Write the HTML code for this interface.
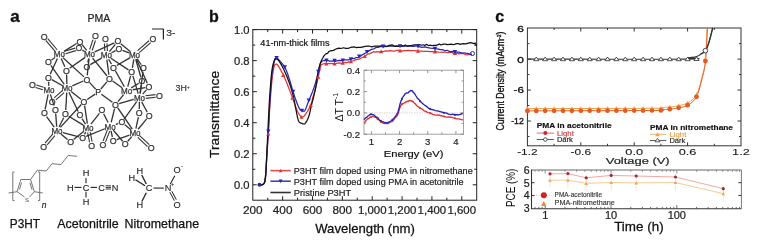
<!DOCTYPE html><html><head><meta charset="utf-8"><style>html,body{margin:0;padding:0;width:760px;height:245px;overflow:hidden;background:#fff}</style></head><body><svg width="760" height="245" viewBox="0 0 760 245" style="position:absolute;left:0;top:0;font-family:'Liberation Sans', sans-serif;font-variant-ligatures:none;filter:blur(0.3px)">
<rect width="760" height="245" fill="#fff"/>
<text x="10.2" y="21.8" font-size="17" text-anchor="start" font-weight="bold" fill="#111"  stroke="#111" stroke-width="0.34" style="">a</text>
<text x="208.9" y="21.8" font-size="16" text-anchor="start" font-weight="bold" fill="#111"  stroke="#111" stroke-width="0.32" style="">b</text>
<text x="495.3" y="21.9" font-size="16" text-anchor="start" font-weight="bold" fill="#111"  stroke="#111" stroke-width="0.32" style="">c</text>
<text x="98.8" y="21.5" font-size="10.5" text-anchor="middle" font-weight="normal" fill="#222" textLength="22.8" lengthAdjust="spacingAndGlyphs"  stroke="#222" stroke-width="0.21" style="">PMA</text>
<path d="M152 29 L163.4 29 L163.4 39.5" fill="none" stroke="#222" stroke-width="1.2" stroke-linejoin="round" />
<text x="166.3" y="36.2" font-size="8.5" text-anchor="start" font-weight="normal" fill="#333" textLength="9.2" lengthAdjust="spacingAndGlyphs"  stroke="#333" stroke-width="0.17" style="">3-</text>
<text x="175.6" y="91.3" font-size="8.5" text-anchor="start" font-weight="normal" fill="#333" textLength="11.3" lengthAdjust="spacingAndGlyphs"  stroke="#333" stroke-width="0.17" style="">3H</text>
<text x="186.8" y="88.5" font-size="5.5" text-anchor="start" font-weight="normal" fill="#333"  stroke="#333" stroke-width="0.11" style="">+</text>
<line x1="51.59" y1="59.94" x2="55" y2="57.44" stroke="#333" stroke-width="1.3" />
<line x1="76.58" y1="43.51" x2="63.95" y2="51.4" stroke="#333" stroke-width="1.3" />
<line x1="50.18" y1="74.15" x2="57.41" y2="58.4" stroke="#333" stroke-width="1.3" />
<line x1="64.87" y1="66.82" x2="61.13" y2="58.41" stroke="#333" stroke-width="1.3" />
<line x1="83.95" y1="76.89" x2="63.06" y2="57.75" stroke="#333" stroke-width="1.3" />
<line x1="82.18" y1="44.64" x2="86.61" y2="50.48" stroke="#333" stroke-width="1.3" />
<line x1="82.29" y1="50.18" x2="84.67" y2="51.54" stroke="#333" stroke-width="1.3" />
<line x1="114.38" y1="42.87" x2="94.73" y2="51.9" stroke="#333" stroke-width="1.3" />
<line x1="69.62" y1="68.3" x2="85.12" y2="57.39" stroke="#333" stroke-width="1.3" />
<line x1="87.82" y1="62.5" x2="88.63" y2="58.56" stroke="#333" stroke-width="1.3" />
<line x1="87.24" y1="75.43" x2="89.04" y2="58.59" stroke="#333" stroke-width="1.3" />
<line x1="106.92" y1="75.75" x2="92.55" y2="58.06" stroke="#333" stroke-width="1.3" />
<line x1="115.31" y1="44.33" x2="109.38" y2="51.55" stroke="#333" stroke-width="1.3" />
<line x1="115.62" y1="50.68" x2="111.4" y2="52.77" stroke="#333" stroke-width="1.3" />
<line x1="90.28" y1="64.6" x2="101.5" y2="58.09" stroke="#333" stroke-width="1.3" />
<line x1="111.47" y1="64.07" x2="108.65" y2="59.29" stroke="#333" stroke-width="1.3" />
<line x1="108.86" y1="74.74" x2="106.86" y2="59.58" stroke="#333" stroke-width="1.3" />
<line x1="128.52" y1="69.91" x2="110.84" y2="58.28" stroke="#333" stroke-width="1.3" />
<line x1="120.77" y1="43.74" x2="130.47" y2="51.69" stroke="#333" stroke-width="1.3" />
<line x1="122.49" y1="50.35" x2="129.02" y2="52.88" stroke="#333" stroke-width="1.3" />
<line x1="116.76" y1="65.56" x2="129.75" y2="57.83" stroke="#333" stroke-width="1.3" />
<line x1="132.36" y1="67.97" x2="133.8" y2="59.27" stroke="#333" stroke-width="1.3" />
<line x1="141.25" y1="64.75" x2="137.19" y2="58.89" stroke="#333" stroke-width="1.3" />
<line x1="140.88" y1="77.29" x2="135.71" y2="59.22" stroke="#333" stroke-width="1.3" />
<line x1="147.34" y1="83.34" x2="136.36" y2="59.11" stroke="#333" stroke-width="1.3" />
<line x1="48.67" y1="81.9" x2="48.83" y2="85.9" stroke="#333" stroke-width="1.3" />
<line x1="45.11" y1="109.3" x2="48.13" y2="94.46" stroke="#333" stroke-width="1.3" />
<line x1="54.12" y1="105.65" x2="50.39" y2="94.39" stroke="#333" stroke-width="1.3" />
<line x1="50.79" y1="65.42" x2="64.25" y2="84.33" stroke="#333" stroke-width="1.3" />
<line x1="51.8" y1="79.65" x2="62.14" y2="85.47" stroke="#333" stroke-width="1.3" />
<line x1="66.62" y1="74.6" x2="66.88" y2="83.9" stroke="#333" stroke-width="1.3" />
<line x1="83.36" y1="81.01" x2="72.3" y2="85.87" stroke="#333" stroke-width="1.3" />
<line x1="65.74" y1="110.11" x2="66.75" y2="92.5" stroke="#333" stroke-width="1.3" />
<line x1="78.17" y1="111.58" x2="68.95" y2="92.29" stroke="#333" stroke-width="1.3" />
<line x1="80.98" y1="99.22" x2="71.12" y2="91.45" stroke="#333" stroke-width="1.3" />
<line x1="115.46" y1="70.98" x2="124.34" y2="86.79" stroke="#333" stroke-width="1.3" />
<line x1="112.53" y1="80.98" x2="122.19" y2="87.73" stroke="#333" stroke-width="1.3" />
<line x1="130.63" y1="75.93" x2="127.75" y2="86.57" stroke="#333" stroke-width="1.3" />
<line x1="138.78" y1="83.21" x2="131.25" y2="87.9" stroke="#333" stroke-width="1.3" />
<line x1="145.34" y1="87.62" x2="132.71" y2="89.76" stroke="#333" stroke-width="1.3" />
<line x1="117.96" y1="101.54" x2="123.57" y2="94.57" stroke="#333" stroke-width="1.3" />
<line x1="132.88" y1="75.89" x2="138.23" y2="93.59" stroke="#333" stroke-width="1.3" />
<line x1="142.96" y1="72.06" x2="140.07" y2="93.52" stroke="#333" stroke-width="1.3" />
<line x1="141.39" y1="85.24" x2="140.14" y2="93.52" stroke="#333" stroke-width="1.3" />
<line x1="146.42" y1="89.94" x2="142.74" y2="94.11" stroke="#333" stroke-width="1.3" />
<line x1="119.08" y1="103.58" x2="133.68" y2="99.45" stroke="#333" stroke-width="1.3" />
<line x1="124.11" y1="119.1" x2="136.71" y2="101.66" stroke="#333" stroke-width="1.3" />
<line x1="139.28" y1="109.1" x2="139.42" y2="102.1" stroke="#333" stroke-width="1.3" />
<line x1="147.3" y1="112.28" x2="141.67" y2="101.84" stroke="#333" stroke-width="1.3" />
<line x1="46.6" y1="116.51" x2="54.23" y2="127.14" stroke="#333" stroke-width="1.3" />
<line x1="55.7" y1="113.59" x2="56.68" y2="126.71" stroke="#333" stroke-width="1.3" />
<line x1="63.69" y1="117.78" x2="59.06" y2="126.94" stroke="#333" stroke-width="1.3" />
<line x1="81.36" y1="104.47" x2="60.35" y2="127.36" stroke="#333" stroke-width="1.3" />
<line x1="67.6" y1="139.5" x2="61.08" y2="134.27" stroke="#333" stroke-width="1.3" />
<line x1="79" y1="136.93" x2="62.86" y2="132.58" stroke="#333" stroke-width="1.3" />
<line x1="68.74" y1="116.19" x2="83.31" y2="125.13" stroke="#333" stroke-width="1.3" />
<line x1="82.02" y1="118.56" x2="85.5" y2="124.05" stroke="#333" stroke-width="1.3" />
<line x1="84.61" y1="105.64" x2="87.35" y2="123.72" stroke="#333" stroke-width="1.3" />
<line x1="99.39" y1="113.31" x2="90.95" y2="124.2" stroke="#333" stroke-width="1.3" />
<line x1="73.6" y1="139.5" x2="83.91" y2="131.27" stroke="#333" stroke-width="1.3" />
<line x1="84.51" y1="134.39" x2="85.8" y2="132.03" stroke="#333" stroke-width="1.3" />
<line x1="103.63" y1="113.76" x2="108.11" y2="122.44" stroke="#333" stroke-width="1.3" />
<line x1="114.54" y1="108.56" x2="111.23" y2="122.26" stroke="#333" stroke-width="1.3" />
<line x1="118.28" y1="123.57" x2="115.77" y2="124.48" stroke="#333" stroke-width="1.3" />
<line x1="86.07" y1="136.47" x2="104.81" y2="128.73" stroke="#333" stroke-width="1.3" />
<line x1="112.37" y1="137" x2="111.08" y2="130.76" stroke="#333" stroke-width="1.3" />
<line x1="122.67" y1="141.21" x2="113.35" y2="130.22" stroke="#333" stroke-width="1.3" />
<line x1="117.74" y1="107.86" x2="132.33" y2="129.11" stroke="#333" stroke-width="1.3" />
<line x1="124.79" y1="124.72" x2="130.94" y2="129.71" stroke="#333" stroke-width="1.3" />
<line x1="138.35" y1="117.19" x2="135.9" y2="128.74" stroke="#333" stroke-width="1.3" />
<line x1="146.7" y1="118.83" x2="138.09" y2="129.25" stroke="#333" stroke-width="1.3" />
<line x1="116.71" y1="139.71" x2="129.45" y2="135.04" stroke="#333" stroke-width="1.3" />
<line x1="127.78" y1="141.26" x2="131.77" y2="136.69" stroke="#333" stroke-width="1.3" />
<line x1="89.44" y1="82.37" x2="95.64" y2="89.11" stroke="#333" stroke-width="1.3" />
<line x1="106.88" y1="81.8" x2="100.85" y2="88.97" stroke="#333" stroke-width="1.3" />
<line x1="87.16" y1="99.48" x2="95.16" y2="94.11" stroke="#333" stroke-width="1.3" />
<line x1="112.41" y1="102.34" x2="101.37" y2="94.25" stroke="#333" stroke-width="1.3" />
<line x1="45.74" y1="40.33" x2="55.15" y2="51.42" stroke="#333" stroke-width="1.1" />
<line x1="47.73" y1="38.65" x2="57.13" y2="49.74" stroke="#333" stroke-width="1.1" />
<line x1="92.99" y1="39.64" x2="89.66" y2="49.7" stroke="#333" stroke-width="1.1" />
<line x1="95.46" y1="40.46" x2="92.12" y2="50.52" stroke="#333" stroke-width="1.1" />
<line x1="104.41" y1="43.46" x2="104.79" y2="51.07" stroke="#333" stroke-width="1.1" />
<line x1="107" y1="43.33" x2="107.38" y2="50.94" stroke="#333" stroke-width="1.1" />
<line x1="149.03" y1="40.74" x2="137.56" y2="50.64" stroke="#333" stroke-width="1.1" />
<line x1="150.73" y1="42.7" x2="139.26" y2="52.61" stroke="#333" stroke-width="1.1" />
<line x1="35.6" y1="87.52" x2="42.86" y2="89.71" stroke="#333" stroke-width="1.1" />
<line x1="36.35" y1="85.03" x2="43.61" y2="87.22" stroke="#333" stroke-width="1.1" />
<line x1="55.94" y1="99.88" x2="64.06" y2="92.59" stroke="#333" stroke-width="1.1" />
<line x1="54.2" y1="97.95" x2="62.32" y2="90.66" stroke="#333" stroke-width="1.1" />
<line x1="155.47" y1="94.64" x2="145.56" y2="95.79" stroke="#333" stroke-width="1.1" />
<line x1="155.77" y1="97.22" x2="145.86" y2="98.37" stroke="#333" stroke-width="1.1" />
<line x1="47.11" y1="144.83" x2="54.87" y2="135.57" stroke="#333" stroke-width="1.1" />
<line x1="45.12" y1="143.16" x2="52.88" y2="133.9" stroke="#333" stroke-width="1.1" />
<line x1="92.15" y1="141.74" x2="90.15" y2="132" stroke="#333" stroke-width="1.1" />
<line x1="89.6" y1="142.26" x2="87.6" y2="132.52" stroke="#333" stroke-width="1.1" />
<line x1="105.49" y1="141.92" x2="109.77" y2="131.13" stroke="#333" stroke-width="1.1" />
<line x1="103.08" y1="140.97" x2="107.35" y2="130.17" stroke="#333" stroke-width="1.1" />
<line x1="149.28" y1="144.7" x2="139.58" y2="135.54" stroke="#333" stroke-width="1.1" />
<line x1="147.49" y1="146.59" x2="137.8" y2="137.43" stroke="#333" stroke-width="1.1" />
<line x1="75.05" y1="48.14" x2="64.67" y2="51.3" stroke="#333" stroke-width="1.1" />
<line x1="75.81" y1="50.63" x2="65.43" y2="53.79" stroke="#333" stroke-width="1.1" />
<text x="59.3" y="57.4" font-size="8.8" text-anchor="middle" font-weight="normal" fill="#333" textLength="11.2" lengthAdjust="spacingAndGlyphs" stroke="#333" stroke-width="0.25" style="">Mo</text>
<text x="89.5" y="57.4" font-size="8.8" text-anchor="middle" font-weight="normal" fill="#333" textLength="11.2" lengthAdjust="spacingAndGlyphs" stroke="#333" stroke-width="0.25" style="">Mo</text>
<text x="106.3" y="58.4" font-size="8.8" text-anchor="middle" font-weight="normal" fill="#333" textLength="11.2" lengthAdjust="spacingAndGlyphs" stroke="#333" stroke-width="0.25" style="">Mo</text>
<text x="134.5" y="58.1" font-size="8.8" text-anchor="middle" font-weight="normal" fill="#333" textLength="11.2" lengthAdjust="spacingAndGlyphs" stroke="#333" stroke-width="0.25" style="">Mo</text>
<text x="49" y="93.3" font-size="8.8" text-anchor="middle" font-weight="normal" fill="#333" textLength="11.2" lengthAdjust="spacingAndGlyphs" stroke="#333" stroke-width="0.25" style="">Mo</text>
<text x="67" y="91.3" font-size="8.8" text-anchor="middle" font-weight="normal" fill="#333" textLength="11.2" lengthAdjust="spacingAndGlyphs" stroke="#333" stroke-width="0.25" style="">Mo</text>
<text x="126.6" y="93.9" font-size="8.8" text-anchor="middle" font-weight="normal" fill="#333" textLength="11.2" lengthAdjust="spacingAndGlyphs" stroke="#333" stroke-width="0.25" style="">Mo</text>
<text x="139.5" y="100.9" font-size="8.8" text-anchor="middle" font-weight="normal" fill="#333" textLength="11.2" lengthAdjust="spacingAndGlyphs" stroke="#333" stroke-width="0.25" style="">Mo</text>
<text x="57" y="134.1" font-size="8.8" text-anchor="middle" font-weight="normal" fill="#333" textLength="11.2" lengthAdjust="spacingAndGlyphs" stroke="#333" stroke-width="0.25" style="">Mo</text>
<text x="88" y="131.1" font-size="8.8" text-anchor="middle" font-weight="normal" fill="#333" textLength="11.2" lengthAdjust="spacingAndGlyphs" stroke="#333" stroke-width="0.25" style="">Mo</text>
<text x="110.2" y="129.6" font-size="8.8" text-anchor="middle" font-weight="normal" fill="#333" textLength="11.2" lengthAdjust="spacingAndGlyphs" stroke="#333" stroke-width="0.25" style="">Mo</text>
<text x="135" y="136.1" font-size="8.8" text-anchor="middle" font-weight="normal" fill="#333" textLength="11.2" lengthAdjust="spacingAndGlyphs" stroke="#333" stroke-width="0.25" style="">Mo</text>
<text x="98.3" y="95.1" font-size="8.8" text-anchor="middle" font-weight="normal" fill="#333" stroke="#333" stroke-width="0.25" style="">P</text>
<text x="44.2" y="39.6" font-size="8.8" text-anchor="middle" font-weight="normal" fill="#333" stroke="#333" stroke-width="0.25" style="">O</text>
<text x="95.5" y="39.3" font-size="8.8" text-anchor="middle" font-weight="normal" fill="#333" stroke="#333" stroke-width="0.25" style="">O</text>
<text x="105.5" y="42.4" font-size="8.8" text-anchor="middle" font-weight="normal" fill="#333" stroke="#333" stroke-width="0.25" style="">O</text>
<text x="152.8" y="42.3" font-size="8.8" text-anchor="middle" font-weight="normal" fill="#333" stroke="#333" stroke-width="0.25" style="">O</text>
<text x="32.4" y="88.3" font-size="8.8" text-anchor="middle" font-weight="normal" fill="#333" stroke="#333" stroke-width="0.25" style="">O</text>
<text x="52.2" y="104.6" font-size="8.8" text-anchor="middle" font-weight="normal" fill="#333" stroke="#333" stroke-width="0.25" style="">O</text>
<text x="159.3" y="98.6" font-size="8.8" text-anchor="middle" font-weight="normal" fill="#333" stroke="#333" stroke-width="0.25" style="">O</text>
<text x="43.6" y="150.1" font-size="8.8" text-anchor="middle" font-weight="normal" fill="#333" stroke="#333" stroke-width="0.25" style="">O</text>
<text x="91.7" y="149.1" font-size="8.8" text-anchor="middle" font-weight="normal" fill="#333" stroke="#333" stroke-width="0.25" style="">O</text>
<text x="102.8" y="148.3" font-size="8.8" text-anchor="middle" font-weight="normal" fill="#333" stroke="#333" stroke-width="0.25" style="">O</text>
<text x="151.2" y="151.4" font-size="8.8" text-anchor="middle" font-weight="normal" fill="#333" stroke="#333" stroke-width="0.25" style="">O</text>
<text x="48.5" y="65.3" font-size="8.8" text-anchor="middle" font-weight="normal" fill="#333" stroke="#333" stroke-width="0.25" style="">O</text>
<text x="79.8" y="44.6" font-size="8.8" text-anchor="middle" font-weight="normal" fill="#333" stroke="#333" stroke-width="0.25" style="">O</text>
<text x="79" y="51.4" font-size="8.8" text-anchor="middle" font-weight="normal" fill="#333" stroke="#333" stroke-width="0.25" style="">O</text>
<text x="117.8" y="44.4" font-size="8.8" text-anchor="middle" font-weight="normal" fill="#333" stroke="#333" stroke-width="0.25" style="">O</text>
<text x="119" y="52.1" font-size="8.8" text-anchor="middle" font-weight="normal" fill="#333" stroke="#333" stroke-width="0.25" style="">O</text>
<text x="48.5" y="80.9" font-size="8.8" text-anchor="middle" font-weight="normal" fill="#333" stroke="#333" stroke-width="0.25" style="">O</text>
<text x="66.5" y="73.6" font-size="8.8" text-anchor="middle" font-weight="normal" fill="#333" stroke="#333" stroke-width="0.25" style="">O</text>
<text x="87" y="69.6" font-size="8.8" text-anchor="middle" font-weight="normal" fill="#333" stroke="#333" stroke-width="0.25" style="">O</text>
<text x="86.8" y="82.6" font-size="8.8" text-anchor="middle" font-weight="normal" fill="#333" stroke="#333" stroke-width="0.25" style="">O</text>
<text x="113.5" y="70.6" font-size="8.8" text-anchor="middle" font-weight="normal" fill="#333" stroke="#333" stroke-width="0.25" style="">O</text>
<text x="109.4" y="81.9" font-size="8.8" text-anchor="middle" font-weight="normal" fill="#333" stroke="#333" stroke-width="0.25" style="">O</text>
<text x="131.7" y="75.1" font-size="8.8" text-anchor="middle" font-weight="normal" fill="#333" stroke="#333" stroke-width="0.25" style="">O</text>
<text x="143.5" y="71.1" font-size="8.8" text-anchor="middle" font-weight="normal" fill="#333" stroke="#333" stroke-width="0.25" style="">O</text>
<text x="142" y="84.3" font-size="8.8" text-anchor="middle" font-weight="normal" fill="#333" stroke="#333" stroke-width="0.25" style="">O</text>
<text x="149" y="90.1" font-size="8.8" text-anchor="middle" font-weight="normal" fill="#333" stroke="#333" stroke-width="0.25" style="">O</text>
<text x="44.3" y="116.4" font-size="8.8" text-anchor="middle" font-weight="normal" fill="#333" stroke="#333" stroke-width="0.25" style="">O</text>
<text x="55.4" y="112.6" font-size="8.8" text-anchor="middle" font-weight="normal" fill="#333" stroke="#333" stroke-width="0.25" style="">O</text>
<text x="65.5" y="117.3" font-size="8.8" text-anchor="middle" font-weight="normal" fill="#333" stroke="#333" stroke-width="0.25" style="">O</text>
<text x="79.9" y="118.3" font-size="8.8" text-anchor="middle" font-weight="normal" fill="#333" stroke="#333" stroke-width="0.25" style="">O</text>
<text x="84" y="104.7" font-size="8.8" text-anchor="middle" font-weight="normal" fill="#333" stroke="#333" stroke-width="0.25" style="">O</text>
<text x="101.8" y="113.3" font-size="8.8" text-anchor="middle" font-weight="normal" fill="#333" stroke="#333" stroke-width="0.25" style="">O</text>
<text x="115.5" y="107.7" font-size="8.8" text-anchor="middle" font-weight="normal" fill="#333" stroke="#333" stroke-width="0.25" style="">O</text>
<text x="121.8" y="125.4" font-size="8.8" text-anchor="middle" font-weight="normal" fill="#333" stroke="#333" stroke-width="0.25" style="">O</text>
<text x="139.2" y="116.3" font-size="8.8" text-anchor="middle" font-weight="normal" fill="#333" stroke="#333" stroke-width="0.25" style="">O</text>
<text x="149.2" y="118.9" font-size="8.8" text-anchor="middle" font-weight="normal" fill="#333" stroke="#333" stroke-width="0.25" style="">O</text>
<text x="70.6" y="145" font-size="8.8" text-anchor="middle" font-weight="normal" fill="#333" stroke="#333" stroke-width="0.25" style="">O</text>
<text x="82.6" y="141" font-size="8.8" text-anchor="middle" font-weight="normal" fill="#333" stroke="#333" stroke-width="0.25" style="">O</text>
<text x="113.2" y="144.1" font-size="8.8" text-anchor="middle" font-weight="normal" fill="#333" stroke="#333" stroke-width="0.25" style="">O</text>
<text x="125.2" y="147.3" font-size="8.8" text-anchor="middle" font-weight="normal" fill="#333" stroke="#333" stroke-width="0.25" style="">O</text>
<path d="M17.1 191.7 L20.8 179.5 L30.6 179.5 L34.3 191.7 L29.5 197" fill="none" stroke="#666" stroke-width="0.9" stroke-linejoin="round" />
<path d="M24.5 197 L17.1 191.7" fill="none" stroke="#666" stroke-width="0.9" stroke-linejoin="round" />
<line x1="21.5" y1="182.5" x2="19.5" y2="189.5" stroke="#666" stroke-width="0.9" />
<line x1="29.9" y1="182.5" x2="32" y2="189.5" stroke="#666" stroke-width="0.9" />
<text x="26.9" y="201.5" font-size="6" text-anchor="middle" font-weight="normal" fill="#666"  stroke="#666" stroke-width="0.12" style="">S</text>
<line x1="8.6" y1="193" x2="17.1" y2="191.7" stroke="#666" stroke-width="0.9" />
<line x1="34.3" y1="191.7" x2="42.8" y2="193" stroke="#666" stroke-width="0.9" />
<path d="M14.5 172 L12.8 172 L12.8 200.5 L14.5 200.5" fill="none" stroke="#666" stroke-width="0.9" stroke-linejoin="round" />
<path d="M38 172 L39.7 172 L39.7 200.5 L38 200.5" fill="none" stroke="#666" stroke-width="0.9" stroke-linejoin="round" />
<text x="41.8" y="207.5" font-size="8.5" text-anchor="start" font-weight="normal" fill="#222"  stroke="#222" stroke-width="0.17" style="font-style:italic">n</text>
<path d="M30.6 179.5 L37.3 170.2 L46.2 171 L52 163.7 L61 164.5 L68.1 155.5 L77.1 156.3" fill="none" stroke="#666" stroke-width="0.9" stroke-linejoin="round" />
<text x="86" y="176.4" font-size="9.2" text-anchor="middle" font-weight="normal" fill="#222" stroke="#222" stroke-width="0.12" style="">H</text>
<text x="86" y="190.7" font-size="9.2" text-anchor="middle" font-weight="normal" fill="#222" stroke="#222" stroke-width="0.12" style="">C</text>
<text x="70.4" y="190.7" font-size="9.2" text-anchor="middle" font-weight="normal" fill="#222" stroke="#222" stroke-width="0.12" style="">H</text>
<text x="86" y="205" font-size="9.2" text-anchor="middle" font-weight="normal" fill="#222" stroke="#222" stroke-width="0.12" style="">H</text>
<text x="101.6" y="190.7" font-size="9.2" text-anchor="middle" font-weight="normal" fill="#222" stroke="#222" stroke-width="0.12" style="">C</text>
<text x="115" y="190.7" font-size="9.2" text-anchor="middle" font-weight="normal" fill="#222" stroke="#222" stroke-width="0.12" style="">N</text>
<line x1="74.5" y1="187.4" x2="81.5" y2="187.4" stroke="#222" stroke-width="1.1" />
<line x1="90.5" y1="187.4" x2="97" y2="187.4" stroke="#222" stroke-width="1.1" />
<line x1="86" y1="178" x2="86" y2="183.2" stroke="#222" stroke-width="1.1" />
<line x1="86" y1="191.8" x2="86" y2="197.4" stroke="#222" stroke-width="1.1" />
<line x1="105.6" y1="185.8" x2="111" y2="185.8" stroke="#222" stroke-width="0.9" />
<line x1="105.6" y1="187.4" x2="111" y2="187.4" stroke="#222" stroke-width="0.9" />
<line x1="105.6" y1="189" x2="111" y2="189" stroke="#222" stroke-width="0.9" />
<text x="139.8" y="174" font-size="9.2" text-anchor="middle" font-weight="normal" fill="#222" stroke="#222" stroke-width="0.12" style="">H</text>
<text x="131.9" y="181" font-size="9.2" text-anchor="middle" font-weight="normal" fill="#222" stroke="#222" stroke-width="0.12" style="">H</text>
<text x="149" y="191.3" font-size="9.2" text-anchor="middle" font-weight="normal" fill="#222" stroke="#222" stroke-width="0.12" style="">C</text>
<text x="139.8" y="208" font-size="9.2" text-anchor="middle" font-weight="normal" fill="#222" stroke="#222" stroke-width="0.12" style="">H</text>
<text x="168" y="191.3" font-size="9.2" text-anchor="middle" font-weight="normal" fill="#222" stroke="#222" stroke-width="0.12" style="">N</text>
<text x="172.5" y="185.5" font-size="5.5" text-anchor="middle" font-weight="normal" fill="#222"  stroke="#222" stroke-width="0.11" style="">+</text>
<text x="177" y="173.3" font-size="9.2" text-anchor="middle" font-weight="normal" fill="#222" stroke="#222" stroke-width="0.12" style="">O</text>
<text x="182" y="167.8" font-size="6.5" text-anchor="middle" font-weight="normal" fill="#222"  stroke="#222" stroke-width="0.13" style="">-</text>
<text x="177" y="208.2" font-size="9.2" text-anchor="middle" font-weight="normal" fill="#222" stroke="#222" stroke-width="0.12" style="">O</text>
<line x1="141.8" y1="175" x2="146.3" y2="184" stroke="#222" stroke-width="1.3" />
<line x1="135.5" y1="179.8" x2="145" y2="185.8" stroke="#222" stroke-width="1.3" />
<line x1="141.8" y1="201.5" x2="146.3" y2="192.8" stroke="#222" stroke-width="1.3" />
<line x1="153.5" y1="188.1" x2="163.8" y2="188.1" stroke="#222" stroke-width="1.1" />
<line x1="170.2" y1="184.3" x2="174.8" y2="175.8" stroke="#222" stroke-width="1.1" />
<line x1="169.9" y1="192.2" x2="174.4" y2="200.6" stroke="#222" stroke-width="1" />
<line x1="171.8" y1="191.2" x2="176.3" y2="199.6" stroke="#222" stroke-width="1" />
<text x="9.8" y="228.2" font-size="12.6" text-anchor="start" font-weight="normal" fill="#111" textLength="30.2" lengthAdjust="spacingAndGlyphs"  stroke="#111" stroke-width="0.25" style="">P3HT</text>
<text x="57.2" y="228.2" font-size="12.6" text-anchor="start" font-weight="normal" fill="#111" textLength="61.6" lengthAdjust="spacingAndGlyphs"  stroke="#111" stroke-width="0.25" style="">Acetonitrile</text>
<text x="124.5" y="228.2" font-size="12.6" text-anchor="start" font-weight="normal" fill="#111" textLength="74.6" lengthAdjust="spacingAndGlyphs"  stroke="#111" stroke-width="0.25" style="">Nitromethane</text>
<rect x="252.8" y="29.6" width="223.9" height="170.6" fill="none" stroke="#222" stroke-width="1"/>
<line x1="252.8" y1="184.8" x2="256.8" y2="184.8" stroke="#222" stroke-width="1" />
<line x1="476.7" y1="184.8" x2="472.7" y2="184.8" stroke="#222" stroke-width="1" />
<text x="249.6" y="188.8" font-size="11.2" text-anchor="end" font-weight="normal" fill="#222"  stroke="#222" stroke-width="0.22" style="">0.0</text>
<line x1="252.8" y1="169.28" x2="255.3" y2="169.28" stroke="#222" stroke-width="1" />
<line x1="476.7" y1="169.28" x2="474.2" y2="169.28" stroke="#222" stroke-width="1" />
<line x1="252.8" y1="153.76" x2="256.8" y2="153.76" stroke="#222" stroke-width="1" />
<line x1="476.7" y1="153.76" x2="472.7" y2="153.76" stroke="#222" stroke-width="1" />
<text x="249.6" y="157.76" font-size="11.2" text-anchor="end" font-weight="normal" fill="#222"  stroke="#222" stroke-width="0.22" style="">0.2</text>
<line x1="252.8" y1="138.24" x2="255.3" y2="138.24" stroke="#222" stroke-width="1" />
<line x1="476.7" y1="138.24" x2="474.2" y2="138.24" stroke="#222" stroke-width="1" />
<line x1="252.8" y1="122.72" x2="256.8" y2="122.72" stroke="#222" stroke-width="1" />
<line x1="476.7" y1="122.72" x2="472.7" y2="122.72" stroke="#222" stroke-width="1" />
<text x="249.6" y="126.72" font-size="11.2" text-anchor="end" font-weight="normal" fill="#222"  stroke="#222" stroke-width="0.22" style="">0.4</text>
<line x1="252.8" y1="107.2" x2="255.3" y2="107.2" stroke="#222" stroke-width="1" />
<line x1="476.7" y1="107.2" x2="474.2" y2="107.2" stroke="#222" stroke-width="1" />
<line x1="252.8" y1="91.68" x2="256.8" y2="91.68" stroke="#222" stroke-width="1" />
<line x1="476.7" y1="91.68" x2="472.7" y2="91.68" stroke="#222" stroke-width="1" />
<text x="249.6" y="95.68" font-size="11.2" text-anchor="end" font-weight="normal" fill="#222"  stroke="#222" stroke-width="0.22" style="">0.6</text>
<line x1="252.8" y1="76.16" x2="255.3" y2="76.16" stroke="#222" stroke-width="1" />
<line x1="476.7" y1="76.16" x2="474.2" y2="76.16" stroke="#222" stroke-width="1" />
<line x1="252.8" y1="60.64" x2="256.8" y2="60.64" stroke="#222" stroke-width="1" />
<line x1="476.7" y1="60.64" x2="472.7" y2="60.64" stroke="#222" stroke-width="1" />
<text x="249.6" y="64.64" font-size="11.2" text-anchor="end" font-weight="normal" fill="#222"  stroke="#222" stroke-width="0.22" style="">0.8</text>
<line x1="252.8" y1="45.12" x2="255.3" y2="45.12" stroke="#222" stroke-width="1" />
<line x1="476.7" y1="45.12" x2="474.2" y2="45.12" stroke="#222" stroke-width="1" />
<line x1="252.8" y1="29.6" x2="256.8" y2="29.6" stroke="#222" stroke-width="1" />
<line x1="476.7" y1="29.6" x2="472.7" y2="29.6" stroke="#222" stroke-width="1" />
<text x="249.6" y="33.6" font-size="11.2" text-anchor="end" font-weight="normal" fill="#222"  stroke="#222" stroke-width="0.22" style="">1.0</text>
<line x1="267.73" y1="200.2" x2="267.73" y2="197.7" stroke="#222" stroke-width="1" />
<line x1="267.73" y1="29.6" x2="267.73" y2="32.1" stroke="#222" stroke-width="1" />
<line x1="282.65" y1="200.2" x2="282.65" y2="196.2" stroke="#222" stroke-width="1" />
<line x1="282.65" y1="29.6" x2="282.65" y2="33.6" stroke="#222" stroke-width="1" />
<line x1="297.58" y1="200.2" x2="297.58" y2="197.7" stroke="#222" stroke-width="1" />
<line x1="297.58" y1="29.6" x2="297.58" y2="32.1" stroke="#222" stroke-width="1" />
<line x1="312.51" y1="200.2" x2="312.51" y2="196.2" stroke="#222" stroke-width="1" />
<line x1="312.51" y1="29.6" x2="312.51" y2="33.6" stroke="#222" stroke-width="1" />
<line x1="327.43" y1="200.2" x2="327.43" y2="197.7" stroke="#222" stroke-width="1" />
<line x1="327.43" y1="29.6" x2="327.43" y2="32.1" stroke="#222" stroke-width="1" />
<line x1="342.36" y1="200.2" x2="342.36" y2="196.2" stroke="#222" stroke-width="1" />
<line x1="342.36" y1="29.6" x2="342.36" y2="33.6" stroke="#222" stroke-width="1" />
<line x1="357.29" y1="200.2" x2="357.29" y2="197.7" stroke="#222" stroke-width="1" />
<line x1="357.29" y1="29.6" x2="357.29" y2="32.1" stroke="#222" stroke-width="1" />
<line x1="372.21" y1="200.2" x2="372.21" y2="196.2" stroke="#222" stroke-width="1" />
<line x1="372.21" y1="29.6" x2="372.21" y2="33.6" stroke="#222" stroke-width="1" />
<line x1="387.14" y1="200.2" x2="387.14" y2="197.7" stroke="#222" stroke-width="1" />
<line x1="387.14" y1="29.6" x2="387.14" y2="32.1" stroke="#222" stroke-width="1" />
<line x1="402.07" y1="200.2" x2="402.07" y2="196.2" stroke="#222" stroke-width="1" />
<line x1="402.07" y1="29.6" x2="402.07" y2="33.6" stroke="#222" stroke-width="1" />
<line x1="416.99" y1="200.2" x2="416.99" y2="197.7" stroke="#222" stroke-width="1" />
<line x1="416.99" y1="29.6" x2="416.99" y2="32.1" stroke="#222" stroke-width="1" />
<line x1="431.92" y1="200.2" x2="431.92" y2="196.2" stroke="#222" stroke-width="1" />
<line x1="431.92" y1="29.6" x2="431.92" y2="33.6" stroke="#222" stroke-width="1" />
<line x1="446.85" y1="200.2" x2="446.85" y2="197.7" stroke="#222" stroke-width="1" />
<line x1="446.85" y1="29.6" x2="446.85" y2="32.1" stroke="#222" stroke-width="1" />
<line x1="461.77" y1="200.2" x2="461.77" y2="196.2" stroke="#222" stroke-width="1" />
<line x1="461.77" y1="29.6" x2="461.77" y2="33.6" stroke="#222" stroke-width="1" />
<text x="252.8" y="214.2" font-size="11.3" text-anchor="middle" font-weight="normal" fill="#222" textLength="19.6" lengthAdjust="spacingAndGlyphs"  stroke="#222" stroke-width="0.23" style="">200</text>
<text x="282.65" y="214.2" font-size="11.3" text-anchor="middle" font-weight="normal" fill="#222" textLength="19.6" lengthAdjust="spacingAndGlyphs"  stroke="#222" stroke-width="0.23" style="">400</text>
<text x="312.51" y="214.2" font-size="11.3" text-anchor="middle" font-weight="normal" fill="#222" textLength="19.6" lengthAdjust="spacingAndGlyphs"  stroke="#222" stroke-width="0.23" style="">600</text>
<text x="342.36" y="214.2" font-size="11.3" text-anchor="middle" font-weight="normal" fill="#222" textLength="19.6" lengthAdjust="spacingAndGlyphs"  stroke="#222" stroke-width="0.23" style="">800</text>
<text x="372.21" y="214.2" font-size="11.3" text-anchor="middle" font-weight="normal" fill="#222" textLength="28.6" lengthAdjust="spacingAndGlyphs"  stroke="#222" stroke-width="0.23" style="">1,000</text>
<text x="402.07" y="214.2" font-size="11.3" text-anchor="middle" font-weight="normal" fill="#222" textLength="28.6" lengthAdjust="spacingAndGlyphs"  stroke="#222" stroke-width="0.23" style="">1,200</text>
<text x="431.92" y="214.2" font-size="11.3" text-anchor="middle" font-weight="normal" fill="#222" textLength="28.6" lengthAdjust="spacingAndGlyphs"  stroke="#222" stroke-width="0.23" style="">1,400</text>
<text x="461.77" y="214.2" font-size="11.3" text-anchor="middle" font-weight="normal" fill="#222" textLength="28.6" lengthAdjust="spacingAndGlyphs"  stroke="#222" stroke-width="0.23" style="">1,600</text>
<text x="365" y="233.4" font-size="13.3" text-anchor="middle" font-weight="normal" fill="#111" textLength="99.6" lengthAdjust="spacingAndGlyphs"  stroke="#111" stroke-width="0.27" style="">Wavelength (nm)</text>
<text x="219.3" y="114.4" font-size="13.5" text-anchor="middle" font-weight="normal" fill="#111" textLength="87" lengthAdjust="spacingAndGlyphs" transform="rotate(-90 219.3 114.4)" stroke="#111" stroke-width="0.27" style="">Transmittance</text>
<text x="260.3" y="46.4" font-size="8.8" text-anchor="start" font-weight="normal" fill="#111" textLength="69.2" lengthAdjust="spacingAndGlyphs"  stroke="#111" stroke-width="0.18" style="">41-nm-thick films</text>
<path d="M259 184.8 L259.52 184.77 L260.26 184.79 L261.12 184.78 L262.02 184.68 L262.84 184.44 L263.5 184 L263.98 183.51 L264.37 183.05 L264.69 182.45 L264.96 181.53 L265.22 180.1 L265.5 178 L265.78 175 L266.04 171.2 L266.29 166.89 L266.53 162.39 L266.77 157.99 L267 154 L267.22 150.51 L267.43 147.31 L267.64 144.21 L267.84 141.03 L268.06 137.58 L268.3 133.7 L268.56 129.23 L268.83 124.29 L269.11 119.08 L269.4 113.83 L269.69 108.73 L270 104 L270.32 99.54 L270.64 95.17 L270.98 90.96 L271.32 86.97 L271.66 83.3 L272 80 L272.34 77.08 L272.68 74.47 L273.02 72.17 L273.36 70.17 L273.68 68.45 L274 67 L274.29 65.9 L274.57 65.16 L274.83 64.71 L275.1 64.45 L275.39 64.31 L275.7 64.2 L276.01 64.08 L276.31 64.03 L276.62 64.08 L276.99 64.31 L277.44 64.76 L278 65.5 L278.72 66.59 L279.57 68 L280.5 69.64 L281.47 71.42 L282.42 73.23 L283.3 75 L284.12 76.74 L284.92 78.52 L285.7 80.35 L286.47 82.21 L287.24 84.1 L288 86 L288.76 87.93 L289.51 89.89 L290.26 91.88 L291.01 93.89 L291.75 95.89 L292.5 97.9 L293.26 99.97 L294.03 102.14 L294.81 104.31 L295.57 106.4 L296.3 108.32 L297 110 L297.66 111.44 L298.29 112.72 L298.9 113.83 L299.49 114.78 L300.05 115.57 L300.6 116.2 L301.12 116.66 L301.6 116.95 L302.06 117.07 L302.51 117.05 L302.99 116.89 L303.5 116.6 L304.05 116.15 L304.61 115.52 L305.2 114.75 L305.8 113.88 L306.4 112.95 L307 112 L307.62 111.01 L308.27 109.95 L308.92 108.83 L309.56 107.65 L310.16 106.44 L310.7 105.2 L311.16 103.94 L311.55 102.64 L311.91 101.3 L312.25 99.92 L312.6 98.49 L313 97 L313.44 95.44 L313.91 93.81 L314.39 92.12 L314.87 90.41 L315.34 88.7 L315.8 87 L316.24 85.3 L316.67 83.58 L317.09 81.86 L317.5 80.14 L317.9 78.45 L318.3 76.8 L318.68 75.13 L319.04 73.42 L319.4 71.73 L319.76 70.14 L320.12 68.7 L320.5 67.5 L320.76 66.55 L320.87 65.79 L320.99 65.2 L321.27 64.73 L321.89 64.34 L323 64 L324.75 63.49 L327.04 63.7 L329.66 63.5 L332.4 63.74 L335.05 63.74 L337.4 63.07 L339.45 62.83 L341.37 63.45 L343.21 62.63 L344.99 62.33 L346.78 62.77 L348.6 61.87 L350.45 61.81 L352.3 60.99 L354.14 60.64 L355.99 59.58 L357.84 59.44 L359.7 58.97 L361.6 57.78 L363.54 57 L365.49 55.87 L367.4 54.22 L369.25 53.99 L371 53.09 L372.57 52.29 L373.98 51.67 L375.32 52.26 L376.69 51.69 L378.18 51.79 L379.9 51.78 L381.77 51.44 L383.7 51.5 L385.76 50.84 L388 51.15 L390.49 50.71 L393.3 51.14 L394.93 51.05 L396.56 50.25 L398.42 50.27 L400.27 50.34 L402.24 51.08 L404.22 50.55 L406.23 50.74 L408.23 50.42 L410.18 50.64 L412.12 50.54 L413.91 50.53 L415.7 50.79 L417.31 50.82 L418.92 51.17 L421.92 51.03 L424.79 51.38 L427.64 51.43 L430.54 51.71 L433.6 51.57 L435.22 51.17 L436.84 51.97 L438.52 52.19 L440.2 52.25 L441.91 52.04 L443.62 52.32 L445.34 51.96 L447.05 52.72 L448.74 52.61 L450.43 52.47 L452.06 52.41 L453.7 53.35 L455.38 53.67 L457.07 52.95 L458.84 53.86 L460.61 53.68 L462.36 53.64 L464.11 53.99 L465.71 54.67 L467.32 54.98 L470.03 54.5 L472 55.2" fill="none" stroke="#e03434" stroke-width="1.25" stroke-linejoin="round" />
<path d="M259 184.8 L259.52 184.78 L260.26 184.82 L261.12 184.84 L262.02 184.76 L262.84 184.5 L263.5 184 L263.98 183.4 L264.37 182.79 L264.69 182.01 L264.96 180.9 L265.22 179.28 L265.5 177 L265.78 173.82 L266.04 169.83 L266.29 165.34 L266.53 160.66 L266.77 156.11 L267 152 L267.22 148.46 L267.43 145.27 L267.64 142.21 L267.84 139.06 L268.06 135.59 L268.3 131.6 L268.56 126.92 L268.83 121.69 L269.11 116.15 L269.4 110.53 L269.69 105.07 L270 100 L270.31 95.19 L270.63 90.44 L270.95 85.84 L271.29 81.5 L271.63 77.52 L272 74 L272.39 70.96 L272.81 68.33 L273.24 66.06 L273.68 64.1 L274.1 62.43 L274.5 61 L274.87 59.88 L275.22 59.11 L275.56 58.62 L275.89 58.34 L276.24 58.19 L276.6 58.1 L276.94 58.08 L277.25 58.18 L277.57 58.41 L277.94 58.79 L278.4 59.32 L279 60 L279.79 60.86 L280.74 61.91 L281.79 63.1 L282.86 64.41 L283.89 65.82 L284.8 67.3 L285.59 68.85 L286.32 70.5 L287.01 72.24 L287.67 74.08 L288.32 76 L289 78 L289.69 80.15 L290.38 82.47 L291.07 84.87 L291.75 87.28 L292.43 89.61 L293.1 91.8 L293.77 93.87 L294.45 95.9 L295.12 97.86 L295.77 99.71 L296.4 101.44 L297 103 L297.55 104.41 L298.07 105.7 L298.57 106.86 L299.05 107.89 L299.52 108.77 L300 109.5 L300.49 110.05 L300.97 110.42 L301.45 110.64 L301.92 110.77 L302.37 110.84 L302.8 110.9 L303.18 111.02 L303.52 111.19 L303.84 111.29 L304.17 111.25 L304.55 110.95 L305 110.3 L305.55 109.19 L306.17 107.66 L306.84 105.89 L307.52 104.01 L308.18 102.2 L308.8 100.6 L309.37 99.23 L309.91 97.96 L310.44 96.76 L310.96 95.56 L311.47 94.32 L312 93 L312.53 91.62 L313.07 90.23 L313.61 88.79 L314.14 87.3 L314.67 85.71 L315.2 84 L315.74 82.09 L316.28 79.99 L316.82 77.8 L317.35 75.62 L317.85 73.55 L318.3 71.7 L318.69 70.03 L319.04 68.45 L319.36 66.99 L319.66 65.66 L319.97 64.49 L320.3 63.5 L320.64 62.73 L320.96 62.17 L321.28 61.76 L321.63 61.47 L322.03 61.23 L322.5 61 L322.97 60.8 L323.41 60.69 L323.9 60.63 L324.51 60.73 L325.32 60.15 L326.4 60.82 L327.82 60.44 L329.53 61.05 L331.44 61.22 L333.46 60.81 L335.47 61.33 L337.4 60.61 L339.26 60.3 L341.12 60.71 L342.99 60.01 L344.87 59.98 L346.74 59.94 L348.6 59.81 L350.45 58.96 L352.3 58.4 L354.14 58.72 L355.99 57.58 L357.84 57.54 L359.7 56.7 L361.6 55.21 L363.54 54.12 L365.49 52.93 L367.4 51.8 L369.25 50.62 L371 49.66 L372.57 49.01 L373.98 48.77 L375.32 47.88 L376.69 47.43 L378.18 47.4 L379.9 46.64 L381.77 46.47 L383.7 47 L385.76 46.45 L388 46.43 L390.49 45.85 L393.3 46.22 L394.93 46.35 L396.56 45.76 L398.42 46.32 L400.27 46.31 L402.24 45.71 L404.22 46.25 L406.23 46.09 L408.23 46.29 L410.18 45.99 L412.12 46.37 L413.91 46.47 L415.7 45.82 L417.31 45.97 L418.92 46.7 L421.92 47.29 L424.79 46.94 L427.64 47.56 L430.54 48.14 L433.6 48.32 L435.22 48.61 L436.84 48.81 L438.52 49.15 L440.2 49.65 L441.91 49.65 L443.62 50.02 L445.34 50.71 L447.05 50.26 L448.74 51.08 L450.43 51.53 L452.06 51.36 L453.7 51.52 L455.38 52.34 L457.07 52.01 L458.84 52.18 L460.61 52.66 L462.36 53.14 L464.11 52.76 L465.71 53.17 L467.32 53.37 L470.03 54.19 L472 54.1" fill="none" stroke="#2626b4" stroke-width="1.25" stroke-linejoin="round" />
<path d="M259 184.8 L259.52 184.8 L260.26 184.86 L261.12 184.9 L262.02 184.83 L262.84 184.56 L263.5 184 L263.98 183.29 L264.37 182.53 L264.69 181.57 L264.96 180.27 L265.22 178.46 L265.5 176 L265.78 172.78 L266.04 168.89 L266.28 164.5 L266.52 159.78 L266.76 154.89 L267 150 L267.25 144.94 L267.5 139.56 L267.75 134 L268 128.44 L268.25 123.06 L268.5 118 L268.74 113.27 L268.98 108.74 L269.22 104.38 L269.46 100.15 L269.72 96.03 L270 92 L270.3 87.96 L270.61 83.93 L270.94 80 L271.28 76.3 L271.63 72.93 L272 70 L272.4 67.54 L272.83 65.45 L273.28 63.7 L273.72 62.24 L274.14 61.02 L274.5 60 L274.79 59.25 L275.02 58.82 L275.22 58.64 L275.43 58.62 L275.67 58.7 L276 58.8 L276.39 58.89 L276.81 59.03 L277.28 59.26 L277.8 59.64 L278.37 60.2 L279 61 L279.72 62.07 L280.52 63.39 L281.38 64.89 L282.26 66.53 L283.14 68.25 L284 70 L284.84 71.81 L285.7 73.74 L286.56 75.75 L287.41 77.81 L288.22 79.91 L289 82 L289.73 84.04 L290.41 86.03 L291.07 88.04 L291.71 90.16 L292.35 92.46 L293 95 L293.68 97.99 L294.38 101.41 L295.07 105.01 L295.74 108.53 L296.36 111.71 L296.9 114.3 L297.33 116.26 L297.67 117.79 L297.95 118.99 L298.22 119.94 L298.52 120.75 L298.9 121.5 L299.35 122.15 L299.85 122.6 L300.37 122.9 L300.92 123.1 L301.46 123.25 L302 123.4 L302.52 123.59 L303.04 123.81 L303.57 123.97 L304.1 124 L304.64 123.84 L305.2 123.4 L305.79 122.66 L306.4 121.68 L307.03 120.5 L307.65 119.16 L308.25 117.71 L308.8 116.2 L309.3 114.56 L309.76 112.75 L310.2 110.83 L310.63 108.85 L311.05 106.89 L311.5 105 L311.97 103.16 L312.46 101.31 L312.95 99.48 L313.43 97.67 L313.88 95.9 L314.3 94.2 L314.67 92.62 L314.99 91.17 L315.29 89.76 L315.59 88.31 L315.88 86.75 L316.2 85 L316.54 82.97 L316.88 80.7 L317.23 78.32 L317.59 75.94 L317.94 73.7 L318.3 71.7 L318.66 69.94 L319.03 68.3 L319.41 66.8 L319.78 65.42 L320.14 64.15 L320.5 63 L320.83 62 L321.15 61.17 L321.46 60.46 L321.77 59.81 L322.12 59.18 L322.5 58.5 L322.87 57.8 L323.2 57.12 L323.56 56.46 L324.01 55.79 L324.6 55.11 L325.4 54.4 L326.41 53.54 L327.59 53.33 L328.92 51.46 L330.37 50.9 L331.94 50.64 L333.6 50.38 L335.33 49.26 L337.15 48.56 L339.08 48.12 L341.14 48.5 L343.37 47.77 L345.8 48.46 L348.51 48.27 L351.5 47.06 L354.66 46.99 L356.27 47.69 L357.87 47.35 L361.02 47.42 L364 46.57 L366.79 46.11 L369.48 46.24 L372.11 46.9 L374.71 46.03 L377.33 46.06 L380 46.08 L382.45 45.98 L384.61 45.87 L386.78 46.54 L389.28 45.3 L392.41 44.97 L394.46 46.32 L396.5 46.17 L398.31 46.29 L400.12 45.42 L401.93 46.16 L403.58 46.09 L405.23 45 L406.89 45.76 L408.54 45.86 L410.35 45.57 L412.16 45.32 L413.97 44.94 L415.78 44.99 L417.62 44.78 L419.46 44.51 L421.29 45.26 L423.13 44.77 L424.86 45.52 L426.59 44.34 L428.32 45.59 L430.05 45.24 L432.03 45.53 L434.02 45.44 L436 45.4 L437.67 44.86 L439.34 43.96 L441.01 45.01 L443.27 44.06 L445.52 44.17 L447.56 44.62 L449.59 44.32 L451.45 44.07 L453.31 44.77 L455.04 44.2 L456.76 43.71 L458.38 43.5 L460 44.34 L463.05 43.61 L465.83 43.89 L468.34 43.07 L470.56 42.72 L472.45 43.18 L474 43.68 L475.11 42.95 L475.78 44.27 L476.12 44.95 L476.28 45.26 L476.36 45.7 L476.5 45.5" fill="none" stroke="#111" stroke-width="1.25" stroke-linejoin="round" />
<path d="M266.2 135.59 L270.4 135.59 L268.3 131.81 Z" fill="#e03434"/>
<path d="M281.2 76.89 L285.4 76.89 L283.3 73.11 Z" fill="#e03434"/>
<path d="M290.4 99.79 L294.6 99.79 L292.5 96.01 Z" fill="#e03434"/>
<path d="M299.4 118.79 L303.6 118.79 L301.5 115.01 Z" fill="#e03434"/>
<path d="M308.6 107.09 L312.8 107.09 L310.7 103.31 Z" fill="#e03434"/>
<path d="M316.2 78.69 L320.4 78.69 L318.3 74.91 Z" fill="#e03434"/>
<path d="M324.3 65.56 L328.5 65.56 L326.4 61.78 Z" fill="#e03434"/>
<path d="M332.5 65.51 L336.7 65.51 L334.6 61.73 Z" fill="#e03434"/>
<path d="M340.7 64.82 L344.9 64.82 L342.8 61.04 Z" fill="#e03434"/>
<path d="M348.8 63.26 L353 63.26 L350.9 59.48 Z" fill="#e03434"/>
<path d="M362.7 57.96 L366.9 57.96 L364.8 54.18 Z" fill="#e03434"/>
<path d="M379 53.17 L383.2 53.17 L381.1 49.39 Z" fill="#e03434"/>
<path d="M397.9 52.51 L402.1 52.51 L400 48.73 Z" fill="#e03434"/>
<path d="M415.9 52.64 L420.1 52.64 L418 48.86 Z" fill="#e03434"/>
<path d="M432.9 53.38 L437.1 53.38 L435 49.6 Z" fill="#e03434"/>
<path d="M452.9 55.02 L457.1 55.02 L455 51.24 Z" fill="#e03434"/>
<path d="M266.1 129.62 L270.5 129.62 L268.3 133.58 Z" fill="#2626b4"/>
<path d="M274.4 56.12 L278.8 56.12 L276.6 60.08 Z" fill="#2626b4"/>
<path d="M282.6 65.32 L287 65.32 L284.8 69.28 Z" fill="#2626b4"/>
<path d="M290.9 89.82 L295.3 89.82 L293.1 93.78 Z" fill="#2626b4"/>
<path d="M299.8 108.81 L304.2 108.81 L302 112.77 Z" fill="#2626b4"/>
<path d="M306.6 98.62 L311 98.62 L308.8 102.58 Z" fill="#2626b4"/>
<path d="M316.1 69.72 L320.5 69.72 L318.3 73.68 Z" fill="#2626b4"/>
<path d="M324.2 58.62 L328.6 58.62 L326.4 62.58 Z" fill="#2626b4"/>
<path d="M332.4 58.85 L336.8 58.85 L334.6 62.81 Z" fill="#2626b4"/>
<path d="M340.6 58.51 L345 58.51 L342.8 62.47 Z" fill="#2626b4"/>
<path d="M348.7 57.22 L353.1 57.22 L350.9 61.18 Z" fill="#2626b4"/>
<path d="M356.9 54.58 L361.3 54.58 L359.1 58.54 Z" fill="#2626b4"/>
<path d="M364.8 49.94 L369.2 49.94 L367 53.9 Z" fill="#2626b4"/>
<path d="M380.8 44.59 L385.2 44.59 L383 48.55 Z" fill="#2626b4"/>
<path d="M397.8 44.2 L402.2 44.2 L400 48.16 Z" fill="#2626b4"/>
<path d="M415.8 44.47 L420.2 44.47 L418 48.43 Z" fill="#2626b4"/>
<path d="M432.8 46.73 L437.2 46.73 L435 50.69 Z" fill="#2626b4"/>
<path d="M452.8 50 L457.2 50 L455 53.96 Z" fill="#2626b4"/>
<circle cx="259.5" cy="184.8" r="2" fill="#2626b4"/>
<circle cx="472.5" cy="53.5" r="2" fill="none" stroke="#2626b4" stroke-width="1"/>
<line x1="270.4" y1="170.6" x2="290.8" y2="170.6" stroke="#e05050" stroke-width="1.6" />
<path d="M278.85 172.17 L282.35 172.17 L280.6 169.03 Z" fill="#e03434"/>
<line x1="270.4" y1="181.2" x2="290.8" y2="181.2" stroke="#4545b5" stroke-width="1.6" />
<path d="M278.7 179.49 L282.5 179.49 L280.6 182.91 Z" fill="#2626b4"/>
<line x1="270.4" y1="192.5" x2="290.8" y2="192.5" stroke="#333" stroke-width="1.6" />
<text x="293.8" y="173.9" font-size="9.3" text-anchor="start" font-weight="normal" fill="#222" textLength="178.9" lengthAdjust="spacingAndGlyphs"  stroke="#222" stroke-width="0.19" style="">P3HT film doped using PMA in nitromethane</text>
<text x="293.8" y="184.5" font-size="9.3" text-anchor="start" font-weight="normal" fill="#222" textLength="169.9" lengthAdjust="spacingAndGlyphs"  stroke="#222" stroke-width="0.19" style="">P3HT film doped using PMA in acetonitrile</text>
<text x="293.8" y="195.8" font-size="9.3" text-anchor="start" font-weight="normal" fill="#222"  stroke="#222" stroke-width="0.19" style="">Pristine P3HT</text>
<rect x="364" y="70.2" width="99.5" height="64" fill="#fff" stroke="#999" stroke-width="0.9"/>
<line x1="364" y1="112.9" x2="463.5" y2="112.9" stroke="#bbb" stroke-width="0.6" stroke-dasharray="1.5 1"/>
<line x1="364" y1="134.22" x2="367" y2="134.22" stroke="#777" stroke-width="0.8" />
<line x1="463.5" y1="134.22" x2="460.5" y2="134.22" stroke="#777" stroke-width="0.8" />
<line x1="364" y1="123.56" x2="365.8" y2="123.56" stroke="#777" stroke-width="0.8" />
<line x1="463.5" y1="123.56" x2="461.7" y2="123.56" stroke="#777" stroke-width="0.8" />
<line x1="364" y1="112.9" x2="367" y2="112.9" stroke="#777" stroke-width="0.8" />
<line x1="463.5" y1="112.9" x2="460.5" y2="112.9" stroke="#777" stroke-width="0.8" />
<line x1="364" y1="102.24" x2="365.8" y2="102.24" stroke="#777" stroke-width="0.8" />
<line x1="463.5" y1="102.24" x2="461.7" y2="102.24" stroke="#777" stroke-width="0.8" />
<line x1="364" y1="91.58" x2="367" y2="91.58" stroke="#777" stroke-width="0.8" />
<line x1="463.5" y1="91.58" x2="460.5" y2="91.58" stroke="#777" stroke-width="0.8" />
<line x1="364" y1="80.92" x2="365.8" y2="80.92" stroke="#777" stroke-width="0.8" />
<line x1="463.5" y1="80.92" x2="461.7" y2="80.92" stroke="#777" stroke-width="0.8" />
<line x1="364" y1="70.26" x2="367" y2="70.26" stroke="#777" stroke-width="0.8" />
<line x1="463.5" y1="70.26" x2="460.5" y2="70.26" stroke="#777" stroke-width="0.8" />
<text x="360" y="137.62" font-size="9.6" text-anchor="end" font-weight="normal" fill="#222"  stroke="#222" stroke-width="0.19" style="">-0.2</text>
<text x="360" y="116.3" font-size="9.6" text-anchor="end" font-weight="normal" fill="#222"  stroke="#222" stroke-width="0.19" style="">0.0</text>
<text x="360" y="94.98" font-size="9.6" text-anchor="end" font-weight="normal" fill="#222"  stroke="#222" stroke-width="0.19" style="">0.2</text>
<text x="360" y="73.66" font-size="9.6" text-anchor="end" font-weight="normal" fill="#222"  stroke="#222" stroke-width="0.19" style="">0.4</text>
<line x1="371.4" y1="134.2" x2="371.4" y2="131.2" stroke="#777" stroke-width="0.8" />
<line x1="371.4" y1="70.2" x2="371.4" y2="73.2" stroke="#777" stroke-width="0.8" />
<line x1="385.48" y1="134.2" x2="385.48" y2="132.4" stroke="#777" stroke-width="0.8" />
<line x1="385.48" y1="70.2" x2="385.48" y2="72" stroke="#777" stroke-width="0.8" />
<line x1="399.57" y1="134.2" x2="399.57" y2="131.2" stroke="#777" stroke-width="0.8" />
<line x1="399.57" y1="70.2" x2="399.57" y2="73.2" stroke="#777" stroke-width="0.8" />
<line x1="413.65" y1="134.2" x2="413.65" y2="132.4" stroke="#777" stroke-width="0.8" />
<line x1="413.65" y1="70.2" x2="413.65" y2="72" stroke="#777" stroke-width="0.8" />
<line x1="427.74" y1="134.2" x2="427.74" y2="131.2" stroke="#777" stroke-width="0.8" />
<line x1="427.74" y1="70.2" x2="427.74" y2="73.2" stroke="#777" stroke-width="0.8" />
<line x1="441.82" y1="134.2" x2="441.82" y2="132.4" stroke="#777" stroke-width="0.8" />
<line x1="441.82" y1="70.2" x2="441.82" y2="72" stroke="#777" stroke-width="0.8" />
<line x1="455.91" y1="134.2" x2="455.91" y2="131.2" stroke="#777" stroke-width="0.8" />
<line x1="455.91" y1="70.2" x2="455.91" y2="73.2" stroke="#777" stroke-width="0.8" />
<text x="371.4" y="145.2" font-size="9.6" text-anchor="middle" font-weight="normal" fill="#222"  stroke="#222" stroke-width="0.19" style="">1</text>
<text x="399.57" y="145.2" font-size="9.6" text-anchor="middle" font-weight="normal" fill="#222"  stroke="#222" stroke-width="0.19" style="">2</text>
<text x="427.74" y="145.2" font-size="9.6" text-anchor="middle" font-weight="normal" fill="#222"  stroke="#222" stroke-width="0.19" style="">3</text>
<text x="455.91" y="145.2" font-size="9.6" text-anchor="middle" font-weight="normal" fill="#222"  stroke="#222" stroke-width="0.19" style="">4</text>
<text x="413.7" y="157.4" font-size="9.8" text-anchor="middle" font-weight="normal" fill="#111" textLength="59.7" lengthAdjust="spacingAndGlyphs"  stroke="#111" stroke-width="0.2" style="">Energy (eV)</text>
<text x="342.5" y="121.5" font-size="10.5" fill="#111" transform="rotate(-90 342.5 121.5)">&#916;T T<tspan font-size="7" dy="-4.5">-1</tspan></text>
<path d="M364 122.36 L364.54 122.37 L365.3 121.81 L366.19 120.19 L367.12 119.52 L368 118.79 L368.81 118.4 L369.62 117.7 L370.45 117.21 L371.3 117.11 L372.2 116.25 L373.18 116.4 L374.24 116.79 L375.32 117.26 L376.36 117.76 L377.3 119.13 L378.12 119.62 L378.84 119.63 L379.53 120.73 L380.23 121.25 L381 121.83 L381.86 122.36 L382.79 123.09 L383.73 123.42 L384.65 123.51 L385.5 123.52 L386.26 123.67 L386.97 123.4 L387.64 123.6 L388.31 123.49 L389 122.89 L389.73 122.28 L390.49 121.96 L391.24 121.68 L391.96 121.39 L392.6 121.05 L393.15 120.18 L393.63 120.02 L394.08 119.3 L394.52 118.54 L395 117.89 L395.54 117.41 L396.1 117.01 L396.67 116.15 L397.21 115.7 L397.7 114.66 L398.13 113.45 L398.51 112.52 L398.86 111.41 L399.19 109.65 L399.5 108.93 L399.78 108.07 L400.01 107.71 L400.24 107.08 L400.49 105.96 L400.8 105.86 L401.19 105.25 L401.63 104.33 L402.1 104.13 L402.56 103.48 L403 103.78 L403.38 103.37 L403.72 103.33 L404.07 103.05 L404.45 102.74 L404.9 102.61 L405.44 102.26 L406.06 101.66 L406.71 101.91 L407.37 101.22 L408 101.18 L408.61 101.56 L409.21 100.68 L409.8 100.53 L410.4 100.42 L411 101.14 L411.55 100.64 L412.05 100.69 L412.58 101.73 L413.2 101.53 L414 102.81 L414.96 103.53 L416.02 104.78 L417.22 106.11 L418.57 107.01 L420.1 108.37 L421.81 108.78 L423.69 110.55 L425.72 111.4 L427.9 112.59 L430.2 112.95 L432.72 114.3 L435.46 115.14 L438.3 114.96 L441.09 115.74 L443.7 116.46 L446.16 117.14 L448.55 116.98 L450.84 117.25 L453 117.64 L455 118.3 L456.91 118.82 L458.75 118.91 L460.41 119.29 L461.8 119.66 L462.8 120" fill="none" stroke="#e03434" stroke-width="1.35" stroke-linejoin="round" />
<path d="M364 119.67 L364.54 119.18 L365.3 118.08 L366.19 117.56 L367.12 117.12 L368 115.92 L368.81 115.65 L369.62 114.58 L370.45 114.61 L371.3 114.42 L372.2 114.36 L373.18 114.58 L374.24 115.21 L375.32 116.19 L376.36 117.29 L377.3 117.38 L378.12 118.03 L378.84 119.33 L379.53 120.17 L380.23 120.45 L381 120.95 L381.86 121.69 L382.79 121.67 L383.73 122.13 L384.65 122.36 L385.5 122.88 L386.26 122.66 L386.97 122.49 L387.64 122.72 L388.31 122.7 L389 121.82 L389.73 121.84 L390.49 121.17 L391.24 121.11 L391.96 120.38 L392.6 119.59 L393.15 119.05 L393.63 118.37 L394.08 118.25 L394.52 117.57 L395 116.71 L395.54 116.13 L396.1 115.3 L396.67 114.84 L397.21 113.33 L397.7 113.04 L398.13 111.37 L398.51 110.11 L398.86 108.57 L399.19 107.53 L399.5 106.29 L399.78 105 L400.01 103.99 L400.24 103.33 L400.49 102.6 L400.8 101.31 L401.19 100.69 L401.63 99.96 L402.1 98.61 L402.56 97.53 L403 96.76 L403.38 96.52 L403.72 95.87 L404.07 95.58 L404.45 94.98 L404.9 93.97 L405.44 93.51 L406.06 93.23 L406.71 92.86 L407.37 93.02 L408 92.82 L408.61 92.42 L409.21 91.33 L409.8 91.39 L410.4 90.54 L411 90.53 L411.55 90.92 L412.05 90.59 L412.58 91.04 L413.2 92.37 L414 92.81 L414.96 94.17 L416.02 96.01 L417.22 97.91 L418.57 99.15 L420.1 101.15 L421.81 102.85 L423.69 104.52 L425.72 105.84 L427.9 107.63 L430.2 109.21 L432.72 109.72 L435.46 110.7 L438.3 111.03 L441.09 111.8 L443.7 112.75 L446.16 112.85 L448.55 114.1 L450.84 114.6 L453 114.23 L455 115.2 L456.91 114.66 L458.75 114.79 L460.41 114.45 L461.8 113.72 L462.8 113.7" fill="none" stroke="#2626b4" stroke-width="1.35" stroke-linejoin="round" />
<circle cx="371" cy="116.98" r="1" fill="#e03434"/>
<circle cx="371" cy="114.26" r="1" fill="#2626b4"/>
<circle cx="381" cy="122" r="1" fill="#e03434"/>
<circle cx="381" cy="121" r="1" fill="#2626b4"/>
<circle cx="392" cy="121.27" r="1" fill="#e03434"/>
<circle cx="392" cy="120.27" r="1" fill="#2626b4"/>
<circle cx="402" cy="104.24" r="1" fill="#e03434"/>
<circle cx="402" cy="98.82" r="1" fill="#2626b4"/>
<circle cx="420" cy="108.03" r="1" fill="#e03434"/>
<circle cx="420" cy="101.2" r="1" fill="#2626b4"/>
<circle cx="430" cy="113.23" r="1" fill="#e03434"/>
<circle cx="430" cy="108.7" r="1" fill="#2626b4"/>
<circle cx="444" cy="116.46" r="1" fill="#e03434"/>
<circle cx="444" cy="112.67" r="1" fill="#2626b4"/>
<circle cx="455" cy="118.2" r="1" fill="#e03434"/>
<circle cx="455" cy="114.8" r="1" fill="#2626b4"/>
<rect x="527.4" y="28" width="213.6" height="117.8" fill="none" stroke="#333" stroke-width="1"/>
<line x1="527.4" y1="136.5" x2="529.4" y2="136.5" stroke="#333" stroke-width="1" />
<line x1="741" y1="136.5" x2="739" y2="136.5" stroke="#333" stroke-width="1" />
<line x1="527.4" y1="121.02" x2="530.9" y2="121.02" stroke="#333" stroke-width="1" />
<line x1="741" y1="121.02" x2="737.5" y2="121.02" stroke="#333" stroke-width="1" />
<line x1="527.4" y1="105.54" x2="529.4" y2="105.54" stroke="#333" stroke-width="1" />
<line x1="741" y1="105.54" x2="739" y2="105.54" stroke="#333" stroke-width="1" />
<line x1="527.4" y1="90.06" x2="530.9" y2="90.06" stroke="#333" stroke-width="1" />
<line x1="741" y1="90.06" x2="737.5" y2="90.06" stroke="#333" stroke-width="1" />
<line x1="527.4" y1="74.58" x2="529.4" y2="74.58" stroke="#333" stroke-width="1" />
<line x1="741" y1="74.58" x2="739" y2="74.58" stroke="#333" stroke-width="1" />
<line x1="527.4" y1="59.1" x2="530.9" y2="59.1" stroke="#333" stroke-width="1" />
<line x1="741" y1="59.1" x2="737.5" y2="59.1" stroke="#333" stroke-width="1" />
<line x1="527.4" y1="43.62" x2="529.4" y2="43.62" stroke="#333" stroke-width="1" />
<line x1="741" y1="43.62" x2="739" y2="43.62" stroke="#333" stroke-width="1" />
<text x="523.8" y="31.54" font-size="9.4" text-anchor="end" font-weight="normal" fill="#111" textLength="6.6" lengthAdjust="spacingAndGlyphs" stroke="#111" stroke-width="0.35" style="">6</text>
<text x="523.8" y="62.5" font-size="9.4" text-anchor="end" font-weight="normal" fill="#111" textLength="6.6" lengthAdjust="spacingAndGlyphs" stroke="#111" stroke-width="0.35" style="">0</text>
<text x="523.8" y="93.46" font-size="9.4" text-anchor="end" font-weight="normal" fill="#111" textLength="10.2" lengthAdjust="spacingAndGlyphs" stroke="#111" stroke-width="0.35" style="">-6</text>
<text x="523.8" y="124.42" font-size="9.4" text-anchor="end" font-weight="normal" fill="#111" textLength="12.6" lengthAdjust="spacingAndGlyphs" stroke="#111" stroke-width="0.35" style="">-12</text>
<line x1="554.1" y1="145.8" x2="554.1" y2="143.8" stroke="#333" stroke-width="1" />
<line x1="554.1" y1="28" x2="554.1" y2="30" stroke="#333" stroke-width="1" />
<line x1="580.8" y1="145.8" x2="580.8" y2="142.3" stroke="#333" stroke-width="1" />
<line x1="580.8" y1="28" x2="580.8" y2="31.5" stroke="#333" stroke-width="1" />
<line x1="607.5" y1="145.8" x2="607.5" y2="143.8" stroke="#333" stroke-width="1" />
<line x1="607.5" y1="28" x2="607.5" y2="30" stroke="#333" stroke-width="1" />
<line x1="634.2" y1="145.8" x2="634.2" y2="142.3" stroke="#333" stroke-width="1" />
<line x1="634.2" y1="28" x2="634.2" y2="31.5" stroke="#333" stroke-width="1" />
<line x1="660.9" y1="145.8" x2="660.9" y2="143.8" stroke="#333" stroke-width="1" />
<line x1="660.9" y1="28" x2="660.9" y2="30" stroke="#333" stroke-width="1" />
<line x1="687.6" y1="145.8" x2="687.6" y2="142.3" stroke="#333" stroke-width="1" />
<line x1="687.6" y1="28" x2="687.6" y2="31.5" stroke="#333" stroke-width="1" />
<line x1="714.3" y1="145.8" x2="714.3" y2="143.8" stroke="#333" stroke-width="1" />
<line x1="714.3" y1="28" x2="714.3" y2="30" stroke="#333" stroke-width="1" />
<text x="527.4" y="155.4" font-size="9.4" text-anchor="middle" font-weight="normal" fill="#1a1a1a" textLength="20.5" lengthAdjust="spacingAndGlyphs" stroke="#1a1a1a" stroke-width="0.1" style="">-1.2</text>
<text x="580.8" y="155.4" font-size="9.4" text-anchor="middle" font-weight="normal" fill="#1a1a1a" textLength="20.5" lengthAdjust="spacingAndGlyphs" stroke="#1a1a1a" stroke-width="0.1" style="">-0.6</text>
<text x="634.2" y="155.4" font-size="9.4" text-anchor="middle" font-weight="normal" fill="#1a1a1a" textLength="17.8" lengthAdjust="spacingAndGlyphs" stroke="#1a1a1a" stroke-width="0.1" style="">0.0</text>
<text x="687.6" y="155.4" font-size="9.4" text-anchor="middle" font-weight="normal" fill="#1a1a1a" textLength="17.8" lengthAdjust="spacingAndGlyphs" stroke="#1a1a1a" stroke-width="0.1" style="">0.6</text>
<text x="741" y="155.4" font-size="9.4" text-anchor="middle" font-weight="normal" fill="#1a1a1a" textLength="17.8" lengthAdjust="spacingAndGlyphs" stroke="#1a1a1a" stroke-width="0.1" style="">1.2</text>
<text x="637.7" y="163.6" font-size="9.6" text-anchor="middle" font-weight="normal" fill="#222" textLength="63.8" lengthAdjust="spacingAndGlyphs" stroke="#222" stroke-width="0.2" style="">Voltage (V)</text>
<text x="503.6" y="81" font-size="10.4" text-anchor="middle" fill="#111" stroke="#111" stroke-width="0.35" textLength="99" lengthAdjust="spacingAndGlyphs" transform="rotate(-90 503.6 81)">Current Density (mAcm<tspan font-size="6" dy="-3">-2</tspan><tspan dy="3">)</tspan></text>
<path d="M527.4 59.1 L546.68 59.12 L574.86 59.15 L607.49 59.18 L640.12 59.2 L668.31 59.18 L687.6 59.1 L696.8 58.96 L699.21 58.76 L697.18 58.52 L693.04 58.27 L689.14 58.03 L687.8 57.8 L688.78 57.61 L690.16 57.44 L691.77 57.28 L693.44 57.1 L695.01 56.88 L696.3 56.6 L697.31 56.26 L698.16 55.87 L698.9 55.44 L699.59 54.99 L700.27 54.5 L701 54 L701.77 53.53 L702.55 53.09 L703.33 52.62 L704.08 52.07 L704.81 51.38 L705.5 50.5 L706.14 49.44 L706.73 48.24 L707.3 46.91 L707.86 45.43 L708.42 43.79 L709 42 L709.65 39.82 L710.36 37.22 L711.07 34.47 L711.73 31.83 L712.3 29.59 L712.7 28" fill="none" stroke="#333" stroke-width="1.1" stroke-linejoin="round" />
<path d="M527.4 108.6 L542.3 108.57 L563.99 108.54 L589.14 108.49 L614.42 108.44 L636.49 108.38 L652 108.3 L660.18 108.21 L663.54 108.09 L663.68 107.97 L662.22 107.84 L660.76 107.72 L660.9 107.6 L662.38 107.5 L663.87 107.42 L665.35 107.34 L666.83 107.26 L668.32 107.15 L669.8 107 L671.28 106.83 L672.77 106.64 L674.25 106.42 L675.73 106.19 L677.22 105.91 L678.7 105.6 L680.18 105.3 L681.67 105.04 L683.15 104.74 L684.63 104.34 L686.12 103.78 L687.6 103 L689.11 102.09 L690.66 101.12 L692.2 99.99 L693.71 98.59 L695.16 96.83 L696.5 94.6 L697.77 91.68 L698.99 88.1 L700.15 84.16 L701.22 80.14 L702.18 76.32 L703 73 L703.66 70.4 L704.17 68.33 L704.56 66.47 L704.89 64.49 L705.19 62.04 L705.5 58.8 L705.83 54.27 L706.13 48.62 L706.41 42.51 L706.65 36.6 L706.85 31.54 L707 28" fill="none" stroke="#f4a24a" stroke-width="1" stroke-linejoin="round" />
<path d="M527.4 110.9 L542.3 110.86 L563.99 110.81 L589.14 110.74 L614.42 110.67 L636.49 110.59 L652 110.5 L660.18 110.4 L663.54 110.29 L663.68 110.16 L662.22 110.04 L660.76 109.91 L660.9 109.8 L662.38 109.7 L663.87 109.62 L665.35 109.54 L666.83 109.46 L668.32 109.35 L669.8 109.2 L671.28 109.03 L672.77 108.84 L674.25 108.63 L675.73 108.39 L677.22 108.11 L678.7 107.8 L680.18 107.5 L681.67 107.24 L683.15 106.94 L684.63 106.54 L686.12 105.98 L687.6 105.2 L689.11 104.29 L690.66 103.33 L692.2 102.2 L693.71 100.81 L695.16 99.04 L696.5 96.8 L697.77 93.85 L698.99 90.24 L700.15 86.25 L701.22 82.19 L702.18 78.34 L703 75 L703.65 72.44 L704.15 70.46 L704.53 68.7 L704.85 66.79 L705.16 64.34 L705.5 61 L705.89 56.22 L706.28 50.19 L706.66 43.62 L707 37.26 L707.29 31.81 L707.5 28" fill="none" stroke="#e06030" stroke-width="1" stroke-linejoin="round" />
<path d="M524.8 110.94 L530 110.94 L527.4 106.26 Z" fill="#f4a24a"/>
<circle cx="527.4" cy="110.9" r="2.35" fill="#e65a1e" stroke="none" stroke-width="0"/>
<path d="M533.7 110.92 L538.9 110.92 L536.3 106.24 Z" fill="#f4a24a"/>
<circle cx="536.3" cy="110.88" r="2.35" fill="#e65a1e" stroke="none" stroke-width="0"/>
<path d="M542.6 110.91 L547.8 110.91 L545.2 106.23 Z" fill="#f4a24a"/>
<circle cx="545.2" cy="110.85" r="2.35" fill="#e65a1e" stroke="none" stroke-width="0"/>
<path d="M551.5 110.89 L556.7 110.89 L554.1 106.21 Z" fill="#f4a24a"/>
<circle cx="554.1" cy="110.83" r="2.35" fill="#e65a1e" stroke="none" stroke-width="0"/>
<path d="M560.4 110.88 L565.6 110.88 L563 106.2 Z" fill="#f4a24a"/>
<circle cx="563" cy="110.81" r="2.35" fill="#e65a1e" stroke="none" stroke-width="0"/>
<path d="M569.3 110.86 L574.5 110.86 L571.9 106.18 Z" fill="#f4a24a"/>
<circle cx="571.9" cy="110.79" r="2.35" fill="#e65a1e" stroke="none" stroke-width="0"/>
<path d="M578.2 110.85 L583.4 110.85 L580.8 106.17 Z" fill="#f4a24a"/>
<circle cx="580.8" cy="110.77" r="2.35" fill="#e65a1e" stroke="none" stroke-width="0"/>
<path d="M587.1 110.83 L592.3 110.83 L589.7 106.15 Z" fill="#f4a24a"/>
<circle cx="589.7" cy="110.74" r="2.35" fill="#e65a1e" stroke="none" stroke-width="0"/>
<path d="M596 110.81 L601.2 110.81 L598.6 106.13 Z" fill="#f4a24a"/>
<circle cx="598.6" cy="110.72" r="2.35" fill="#e65a1e" stroke="none" stroke-width="0"/>
<path d="M604.9 110.8 L610.1 110.8 L607.5 106.12 Z" fill="#f4a24a"/>
<circle cx="607.5" cy="110.69" r="2.35" fill="#e65a1e" stroke="none" stroke-width="0"/>
<path d="M613.8 110.78 L619 110.78 L616.4 106.1 Z" fill="#f4a24a"/>
<circle cx="616.4" cy="110.66" r="2.35" fill="#e65a1e" stroke="none" stroke-width="0"/>
<path d="M622.7 110.75 L627.9 110.75 L625.3 106.07 Z" fill="#f4a24a"/>
<circle cx="625.3" cy="110.63" r="2.35" fill="#e65a1e" stroke="none" stroke-width="0"/>
<path d="M631.6 110.72 L636.8 110.72 L634.2 106.04 Z" fill="#f4a24a"/>
<circle cx="634.2" cy="110.6" r="2.35" fill="#e65a1e" stroke="none" stroke-width="0"/>
<path d="M640.5 110.69 L645.7 110.69 L643.1 106.01 Z" fill="#f4a24a"/>
<circle cx="643.1" cy="110.56" r="2.35" fill="#e65a1e" stroke="none" stroke-width="0"/>
<path d="M649.4 110.64 L654.6 110.64 L652 105.96 Z" fill="#f4a24a"/>
<circle cx="652" cy="110.5" r="2.35" fill="#e65a1e" stroke="none" stroke-width="0"/>
<path d="M658.3 110.53 L663.5 110.53 L660.9 105.85 Z" fill="#f4a24a"/>
<circle cx="660.9" cy="110.38" r="2.35" fill="#e65a1e" stroke="none" stroke-width="0"/>
<path d="M667.2 109.34 L672.4 109.34 L669.8 104.66 Z" fill="#f4a24a"/>
<circle cx="669.8" cy="109.2" r="2.35" fill="#e65a1e" stroke="none" stroke-width="0"/>
<path d="M676.1 107.94 L681.3 107.94 L678.7 103.26 Z" fill="#f4a24a"/>
<circle cx="678.7" cy="107.8" r="2.35" fill="#e65a1e" stroke="none" stroke-width="0"/>
<path d="M685 105.34 L690.2 105.34 L687.6 100.66 Z" fill="#f4a24a"/>
<circle cx="687.6" cy="105.2" r="2.35" fill="#e65a1e" stroke="none" stroke-width="0"/>
<path d="M693.9 96.94 L699.1 96.94 L696.5 92.26 Z" fill="#f4a24a"/>
<circle cx="696.5" cy="96.8" r="2.35" fill="#e65a1e" stroke="none" stroke-width="0"/>
<path d="M702.8 61.14 L708 61.14 L705.4 56.46 Z" fill="#f4a24a"/>
<circle cx="705.4" cy="61" r="2.35" fill="#e65a1e" stroke="none" stroke-width="0"/>
<path d="M533.7 60.7 L538.9 60.7 L536.3 57.1 Z" fill="#fff" stroke="#333" stroke-width="0.85"/>
<path d="M542.6 60.7 L547.8 60.7 L545.2 57.1 Z" fill="#fff" stroke="#333" stroke-width="0.85"/>
<path d="M551.5 60.7 L556.7 60.7 L554.1 57.1 Z" fill="#fff" stroke="#333" stroke-width="0.85"/>
<path d="M560.4 60.7 L565.6 60.7 L563 57.1 Z" fill="#fff" stroke="#333" stroke-width="0.85"/>
<path d="M569.3 60.7 L574.5 60.7 L571.9 57.1 Z" fill="#fff" stroke="#333" stroke-width="0.85"/>
<path d="M578.2 60.7 L583.4 60.7 L580.8 57.1 Z" fill="#fff" stroke="#333" stroke-width="0.85"/>
<path d="M587.1 60.7 L592.3 60.7 L589.7 57.1 Z" fill="#fff" stroke="#333" stroke-width="0.85"/>
<path d="M596 60.7 L601.2 60.7 L598.6 57.1 Z" fill="#fff" stroke="#333" stroke-width="0.85"/>
<path d="M604.9 60.7 L610.1 60.7 L607.5 57.1 Z" fill="#fff" stroke="#333" stroke-width="0.85"/>
<path d="M613.8 60.7 L619 60.7 L616.4 57.1 Z" fill="#fff" stroke="#333" stroke-width="0.85"/>
<path d="M622.7 60.7 L627.9 60.7 L625.3 57.1 Z" fill="#fff" stroke="#333" stroke-width="0.85"/>
<path d="M631.6 60.7 L636.8 60.7 L634.2 57.1 Z" fill="#fff" stroke="#333" stroke-width="0.85"/>
<path d="M640.5 60.7 L645.7 60.7 L643.1 57.1 Z" fill="#fff" stroke="#333" stroke-width="0.85"/>
<path d="M649.4 60.7 L654.6 60.7 L652 57.1 Z" fill="#fff" stroke="#333" stroke-width="0.85"/>
<path d="M658.3 60.7 L663.5 60.7 L660.9 57.1 Z" fill="#fff" stroke="#333" stroke-width="0.85"/>
<path d="M667.2 60.7 L672.4 60.7 L669.8 57.1 Z" fill="#fff" stroke="#333" stroke-width="0.85"/>
<path d="M676.1 60.7 L681.3 60.7 L678.7 57.1 Z" fill="#fff" stroke="#333" stroke-width="0.85"/>
<path d="M685 60.7 L690.2 60.7 L687.6 57.1 Z" fill="#fff" stroke="#333" stroke-width="0.85"/>
<path d="M693.9 60.56 L699.1 60.56 L696.5 56.96 Z" fill="#fff" stroke="#333" stroke-width="0.85"/>
<path d="M701 54 L701.77 53.53 L702.55 53.09 L703.33 52.62 L704.08 52.07 L704.81 51.38 L705.5 50.5 L706.14 49.44 L706.73 48.24 L707.3 46.91 L707.86 45.43 L708.42 43.79 L709 42 L709.65 39.82 L710.36 37.22 L711.07 34.47 L711.73 31.83 L712.3 29.59 L712.7 28" fill="none" stroke="#333" stroke-width="1.3" stroke-linejoin="round" />
<circle cx="705.4" cy="50.64" r="2.3" fill="#fff" stroke="#333" stroke-width="0.9"/>
<text x="536.7" y="127.9" font-size="6.5" text-anchor="start" font-weight="bold" fill="#111" textLength="75" lengthAdjust="spacingAndGlyphs"  stroke="#111" stroke-width="0.13" style="">PMA in acetonitrile</text>
<line x1="536.7" y1="133.1" x2="553.9" y2="133.1" stroke="#e07070" stroke-width="1" />
<circle cx="545.3" cy="133.1" r="2" fill="#d02020" stroke="none" stroke-width="0"/>
<text x="556.9" y="135.6" font-size="7" text-anchor="start" font-weight="normal" fill="#d04040" textLength="17" lengthAdjust="spacingAndGlyphs"  stroke="#d04040" stroke-width="0.14" style="">Light</text>
<line x1="536.7" y1="139.5" x2="553.9" y2="139.5" stroke="#333" stroke-width="0.8" />
<circle cx="545.3" cy="139.5" r="1.8" fill="#fff" stroke="#333" stroke-width="0.8"/>
<text x="556.9" y="142" font-size="7" text-anchor="start" font-weight="normal" fill="#222" textLength="16" lengthAdjust="spacingAndGlyphs"  stroke="#222" stroke-width="0.14" style="">Dark</text>
<text x="650" y="129.6" font-size="6.5" text-anchor="start" font-weight="bold" fill="#111" textLength="83" lengthAdjust="spacingAndGlyphs"  stroke="#111" stroke-width="0.13" style="">PMA in nitromethane</text>
<line x1="650" y1="134.3" x2="666.3" y2="134.3" stroke="#f0b070" stroke-width="1" />
<path d="M655.25 136.33 L659.75 136.33 L657.5 132.28 Z" fill="#f4a24a"/>
<text x="669.4" y="136.8" font-size="7" text-anchor="start" font-weight="normal" fill="#e8a050" textLength="17" lengthAdjust="spacingAndGlyphs"  stroke="#e8a050" stroke-width="0.14" style="">Light</text>
<line x1="650" y1="140.5" x2="666.3" y2="140.5" stroke="#333" stroke-width="0.8" />
<path d="M655 141.8 L660 141.8 L657.5 138.5 Z" fill="#fff" stroke="#333" stroke-width="0.8"/>
<text x="669.4" y="143" font-size="7" text-anchor="start" font-weight="normal" fill="#222" textLength="16" lengthAdjust="spacingAndGlyphs"  stroke="#222" stroke-width="0.14" style="">Dark</text>
<line x1="531.5" y1="170" x2="741.4" y2="170" stroke="#666" stroke-width="1" />
<line x1="741.4" y1="170" x2="741.4" y2="208.7" stroke="#777" stroke-width="1" />
<line x1="531.5" y1="169.5" x2="531.5" y2="209.2" stroke="#333" stroke-width="1.1" />
<line x1="531.5" y1="208.7" x2="741.4" y2="208.7" stroke="#333" stroke-width="1.1" />
<line x1="531.5" y1="195.45" x2="534.5" y2="195.45" stroke="#333" stroke-width="1" />
<line x1="741.4" y1="195.45" x2="738.4" y2="195.45" stroke="#333" stroke-width="1" />
<line x1="531.5" y1="182.7" x2="534.5" y2="182.7" stroke="#333" stroke-width="1" />
<line x1="741.4" y1="182.7" x2="738.4" y2="182.7" stroke="#333" stroke-width="1" />
<line x1="535.01" y1="208.7" x2="535.01" y2="206.9" stroke="#444" stroke-width="0.8" />
<line x1="535.01" y1="170" x2="535.01" y2="171.8" stroke="#777" stroke-width="0.8" />
<line x1="538.82" y1="208.7" x2="538.82" y2="206.9" stroke="#444" stroke-width="0.8" />
<line x1="538.82" y1="170" x2="538.82" y2="171.8" stroke="#777" stroke-width="0.8" />
<line x1="542.19" y1="208.7" x2="542.19" y2="206.9" stroke="#444" stroke-width="0.8" />
<line x1="542.19" y1="170" x2="542.19" y2="171.8" stroke="#777" stroke-width="0.8" />
<line x1="545.2" y1="208.7" x2="545.2" y2="205.2" stroke="#444" stroke-width="0.8" />
<line x1="545.2" y1="170" x2="545.2" y2="173.5" stroke="#777" stroke-width="0.8" />
<line x1="565.01" y1="208.7" x2="565.01" y2="206.9" stroke="#444" stroke-width="0.8" />
<line x1="565.01" y1="170" x2="565.01" y2="171.8" stroke="#777" stroke-width="0.8" />
<line x1="576.59" y1="208.7" x2="576.59" y2="206.9" stroke="#444" stroke-width="0.8" />
<line x1="576.59" y1="170" x2="576.59" y2="171.8" stroke="#777" stroke-width="0.8" />
<line x1="584.82" y1="208.7" x2="584.82" y2="206.9" stroke="#444" stroke-width="0.8" />
<line x1="584.82" y1="170" x2="584.82" y2="171.8" stroke="#777" stroke-width="0.8" />
<line x1="591.19" y1="208.7" x2="591.19" y2="206.9" stroke="#444" stroke-width="0.8" />
<line x1="591.19" y1="170" x2="591.19" y2="171.8" stroke="#777" stroke-width="0.8" />
<line x1="596.4" y1="208.7" x2="596.4" y2="206.9" stroke="#444" stroke-width="0.8" />
<line x1="596.4" y1="170" x2="596.4" y2="171.8" stroke="#777" stroke-width="0.8" />
<line x1="600.81" y1="208.7" x2="600.81" y2="206.9" stroke="#444" stroke-width="0.8" />
<line x1="600.81" y1="170" x2="600.81" y2="171.8" stroke="#777" stroke-width="0.8" />
<line x1="604.62" y1="208.7" x2="604.62" y2="206.9" stroke="#444" stroke-width="0.8" />
<line x1="604.62" y1="170" x2="604.62" y2="171.8" stroke="#777" stroke-width="0.8" />
<line x1="607.99" y1="208.7" x2="607.99" y2="206.9" stroke="#444" stroke-width="0.8" />
<line x1="607.99" y1="170" x2="607.99" y2="171.8" stroke="#777" stroke-width="0.8" />
<line x1="611" y1="208.7" x2="611" y2="205.2" stroke="#444" stroke-width="0.8" />
<line x1="611" y1="170" x2="611" y2="173.5" stroke="#777" stroke-width="0.8" />
<line x1="630.81" y1="208.7" x2="630.81" y2="206.9" stroke="#444" stroke-width="0.8" />
<line x1="630.81" y1="170" x2="630.81" y2="171.8" stroke="#777" stroke-width="0.8" />
<line x1="642.39" y1="208.7" x2="642.39" y2="206.9" stroke="#444" stroke-width="0.8" />
<line x1="642.39" y1="170" x2="642.39" y2="171.8" stroke="#777" stroke-width="0.8" />
<line x1="650.62" y1="208.7" x2="650.62" y2="206.9" stroke="#444" stroke-width="0.8" />
<line x1="650.62" y1="170" x2="650.62" y2="171.8" stroke="#777" stroke-width="0.8" />
<line x1="656.99" y1="208.7" x2="656.99" y2="206.9" stroke="#444" stroke-width="0.8" />
<line x1="656.99" y1="170" x2="656.99" y2="171.8" stroke="#777" stroke-width="0.8" />
<line x1="662.2" y1="208.7" x2="662.2" y2="206.9" stroke="#444" stroke-width="0.8" />
<line x1="662.2" y1="170" x2="662.2" y2="171.8" stroke="#777" stroke-width="0.8" />
<line x1="666.61" y1="208.7" x2="666.61" y2="206.9" stroke="#444" stroke-width="0.8" />
<line x1="666.61" y1="170" x2="666.61" y2="171.8" stroke="#777" stroke-width="0.8" />
<line x1="670.42" y1="208.7" x2="670.42" y2="206.9" stroke="#444" stroke-width="0.8" />
<line x1="670.42" y1="170" x2="670.42" y2="171.8" stroke="#777" stroke-width="0.8" />
<line x1="673.79" y1="208.7" x2="673.79" y2="206.9" stroke="#444" stroke-width="0.8" />
<line x1="673.79" y1="170" x2="673.79" y2="171.8" stroke="#777" stroke-width="0.8" />
<line x1="676.8" y1="208.7" x2="676.8" y2="205.2" stroke="#444" stroke-width="0.8" />
<line x1="676.8" y1="170" x2="676.8" y2="173.5" stroke="#777" stroke-width="0.8" />
<line x1="696.61" y1="208.7" x2="696.61" y2="206.9" stroke="#444" stroke-width="0.8" />
<line x1="696.61" y1="170" x2="696.61" y2="171.8" stroke="#777" stroke-width="0.8" />
<line x1="708.19" y1="208.7" x2="708.19" y2="206.9" stroke="#444" stroke-width="0.8" />
<line x1="708.19" y1="170" x2="708.19" y2="171.8" stroke="#777" stroke-width="0.8" />
<line x1="716.42" y1="208.7" x2="716.42" y2="206.9" stroke="#444" stroke-width="0.8" />
<line x1="716.42" y1="170" x2="716.42" y2="171.8" stroke="#777" stroke-width="0.8" />
<line x1="722.79" y1="208.7" x2="722.79" y2="206.9" stroke="#444" stroke-width="0.8" />
<line x1="722.79" y1="170" x2="722.79" y2="171.8" stroke="#777" stroke-width="0.8" />
<line x1="728" y1="208.7" x2="728" y2="206.9" stroke="#444" stroke-width="0.8" />
<line x1="728" y1="170" x2="728" y2="171.8" stroke="#777" stroke-width="0.8" />
<line x1="732.41" y1="208.7" x2="732.41" y2="206.9" stroke="#444" stroke-width="0.8" />
<line x1="732.41" y1="170" x2="732.41" y2="171.8" stroke="#777" stroke-width="0.8" />
<line x1="736.22" y1="208.7" x2="736.22" y2="206.9" stroke="#444" stroke-width="0.8" />
<line x1="736.22" y1="170" x2="736.22" y2="171.8" stroke="#777" stroke-width="0.8" />
<line x1="739.59" y1="208.7" x2="739.59" y2="206.9" stroke="#444" stroke-width="0.8" />
<line x1="739.59" y1="170" x2="739.59" y2="171.8" stroke="#777" stroke-width="0.8" />
<text x="529.6" y="212.1" font-size="10.6" text-anchor="end" font-weight="normal" fill="#1a1a1a" stroke="#1a1a1a" stroke-width="0.2" style="">3</text>
<text x="529.6" y="199.35" font-size="10.6" text-anchor="end" font-weight="normal" fill="#1a1a1a" stroke="#1a1a1a" stroke-width="0.2" style="">4</text>
<text x="529.6" y="186.6" font-size="10.6" text-anchor="end" font-weight="normal" fill="#1a1a1a" stroke="#1a1a1a" stroke-width="0.2" style="">5</text>
<text x="529.6" y="173.85" font-size="10.6" text-anchor="end" font-weight="normal" fill="#1a1a1a" stroke="#1a1a1a" stroke-width="0.2" style="">6</text>
<text x="545.2" y="218.5" font-size="10" text-anchor="middle" font-weight="normal" fill="#222" textLength="6.1" lengthAdjust="spacingAndGlyphs"  stroke="#222" stroke-width="0.2" style="">1</text>
<text x="611" y="218.5" font-size="10" text-anchor="middle" font-weight="normal" fill="#222" textLength="12.2" lengthAdjust="spacingAndGlyphs"  stroke="#222" stroke-width="0.2" style="">10</text>
<text x="676.8" y="218.5" font-size="10" text-anchor="middle" font-weight="normal" fill="#222" textLength="18.3" lengthAdjust="spacingAndGlyphs"  stroke="#222" stroke-width="0.2" style="">100</text>
<text x="638.9" y="231.4" font-size="13" text-anchor="middle" font-weight="normal" fill="#111" textLength="49.5" lengthAdjust="spacingAndGlyphs"  stroke="#111" stroke-width="0.26" style="">Time (h)</text>
<text x="515.5" y="187.8" font-size="12.5" text-anchor="middle" fill="#111" textLength="38.4" lengthAdjust="spacingAndGlyphs" transform="rotate(-90 515.5 187.8)">PCE (%)</text>
<path d="M550 173.8 L567.9 173.6 L586.2 177.8 L611.2 175.4 L636.2 176 L675.5 177 L723.3 188.7" fill="none" stroke="#f0a8a8" stroke-width="1" stroke-linejoin="round" />
<path d="M550 180.2 L567.9 180.2 L586.2 183.3 L611.2 182.5 L636.2 182.9 L675.5 182.5 L723.3 193.7" fill="none" stroke="#f5cc98" stroke-width="1" stroke-linejoin="round" />
<line x1="550" y1="170.8" x2="550" y2="177.8" stroke="#f5d0d0" stroke-width="0.8" />
<line x1="550" y1="177.2" x2="550" y2="188.2" stroke="#f8e0c0" stroke-width="0.8" />
<line x1="567.9" y1="170.6" x2="567.9" y2="177.6" stroke="#f5d0d0" stroke-width="0.8" />
<line x1="567.9" y1="177.2" x2="567.9" y2="188.2" stroke="#f8e0c0" stroke-width="0.8" />
<line x1="586.2" y1="174.8" x2="586.2" y2="181.8" stroke="#f5d0d0" stroke-width="0.8" />
<line x1="586.2" y1="180.3" x2="586.2" y2="191.3" stroke="#f8e0c0" stroke-width="0.8" />
<line x1="611.2" y1="172.4" x2="611.2" y2="179.4" stroke="#f5d0d0" stroke-width="0.8" />
<line x1="611.2" y1="179.5" x2="611.2" y2="190.5" stroke="#f8e0c0" stroke-width="0.8" />
<line x1="636.2" y1="173" x2="636.2" y2="180" stroke="#f5d0d0" stroke-width="0.8" />
<line x1="636.2" y1="179.9" x2="636.2" y2="190.9" stroke="#f8e0c0" stroke-width="0.8" />
<line x1="675.5" y1="174" x2="675.5" y2="181" stroke="#f5d0d0" stroke-width="0.8" />
<line x1="675.5" y1="179.5" x2="675.5" y2="190.5" stroke="#f8e0c0" stroke-width="0.8" />
<line x1="723.3" y1="185.7" x2="723.3" y2="192.7" stroke="#f5d0d0" stroke-width="0.8" />
<line x1="723.3" y1="190.7" x2="723.3" y2="201.7" stroke="#f8e0c0" stroke-width="0.8" />
<path d="M548.2 181.82 L551.8 181.82 L550 178.58 Z" fill="#e8a850"/>
<path d="M566.1 181.82 L569.7 181.82 L567.9 178.58 Z" fill="#e8a850"/>
<path d="M584.4 184.92 L588 184.92 L586.2 181.68 Z" fill="#e8a850"/>
<path d="M609.4 184.12 L613 184.12 L611.2 180.88 Z" fill="#e8a850"/>
<path d="M634.4 184.52 L638 184.52 L636.2 181.28 Z" fill="#e8a850"/>
<path d="M673.7 184.12 L677.3 184.12 L675.5 180.88 Z" fill="#e8a850"/>
<path d="M721.5 195.32 L725.1 195.32 L723.3 192.08 Z" fill="#e8a850"/>
<circle cx="550" cy="173.8" r="1.6" fill="#a82838" stroke="none" stroke-width="0"/>
<circle cx="567.9" cy="173.6" r="1.6" fill="#a82838" stroke="none" stroke-width="0"/>
<circle cx="586.2" cy="177.8" r="1.6" fill="#a82838" stroke="none" stroke-width="0"/>
<circle cx="611.2" cy="175.4" r="1.6" fill="#a82838" stroke="none" stroke-width="0"/>
<circle cx="636.2" cy="176" r="1.6" fill="#a82838" stroke="none" stroke-width="0"/>
<circle cx="675.5" cy="177" r="1.6" fill="#a82838" stroke="none" stroke-width="0"/>
<circle cx="723.3" cy="188.7" r="1.6" fill="#a82838" stroke="none" stroke-width="0"/>
<line x1="536" y1="195.2" x2="551.4" y2="195.2" stroke="#f09090" stroke-width="0.8" stroke-dasharray="1 1.5"/>
<circle cx="543.8" cy="195.2" r="3" fill="#d42020" stroke="none" stroke-width="0"/>
<line x1="536" y1="203.4" x2="551.4" y2="203.4" stroke="#f5d0a0" stroke-width="0.8" stroke-dasharray="1 1.5"/>
<path d="M541.05 205.88 L546.55 205.88 L543.8 200.93 Z" fill="#e89030"/>
<text x="554.6" y="196.8" font-size="7.2" text-anchor="start" font-weight="normal" fill="#333" textLength="47.4" lengthAdjust="spacingAndGlyphs"  stroke="#333" stroke-width="0.14" style="">PMA-acetonitrile</text>
<text x="554.6" y="205.3" font-size="7.2" text-anchor="start" font-weight="normal" fill="#333" textLength="60.3" lengthAdjust="spacingAndGlyphs"  stroke="#333" stroke-width="0.14" style="">PMA-nitromethane</text>
</svg></body></html>
